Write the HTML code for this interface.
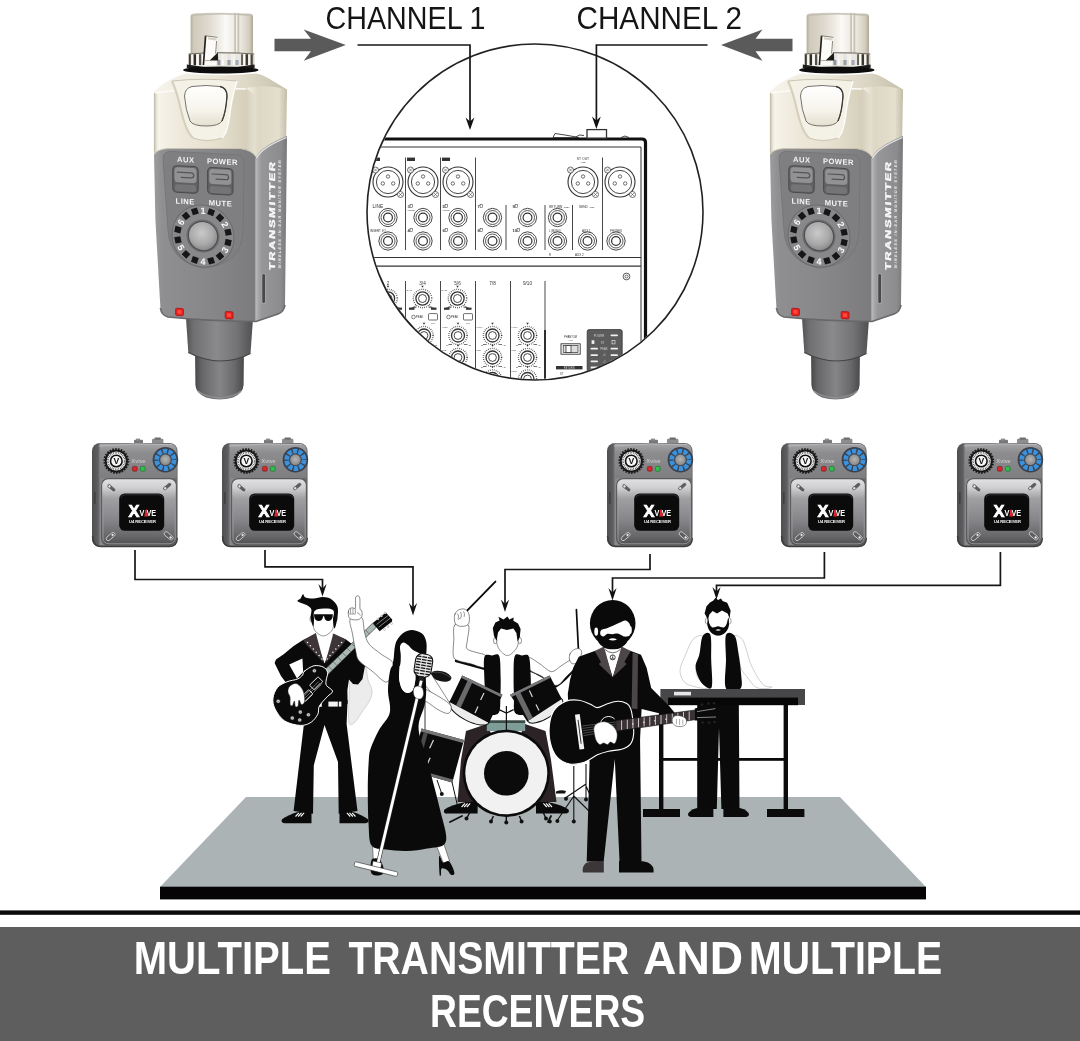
<!DOCTYPE html>
<html lang="en">
<head>
<meta charset="utf-8">
<title>Multiple Transmitter and Multiple Receivers</title>
<style>
html,body{margin:0;padding:0;background:#ffffff;}
body{width:1080px;height:1041px;overflow:hidden;font-family:"Liberation Sans",sans-serif;}
svg{display:block;will-change:transform;}
</style>
</head>
<body>
<svg width="1080" height="1041" viewBox="0 0 1080 1041">
<rect width="1080" height="1041" fill="#ffffff"/>
<rect x="0" y="927" width="1080" height="114" fill="#5e5e5e"/>
<rect x="0" y="910.4" width="1080" height="4.4" fill="#0a0a0a"/>
<g font-family="'Liberation Sans', sans-serif" font-weight="700" font-size="46.5" fill="#ffffff">
<text x="133.7" y="973.6" textLength="197.3" lengthAdjust="spacingAndGlyphs">MULTIPLE</text>
<text x="348.4" y="973.6" textLength="280.8" lengthAdjust="spacingAndGlyphs">TRANSMITTER</text>
<text x="643" y="973.6" textLength="100.2" lengthAdjust="spacingAndGlyphs">AND</text>
<text x="749" y="973.6" textLength="193.1" lengthAdjust="spacingAndGlyphs">MULTIPLE</text>
<text x="430" y="1026.6" textLength="215.1" lengthAdjust="spacingAndGlyphs">RECEIVERS</text>
</g>
<polygon points="246,797 840,797 926,887 160,887" fill="#abb3b5"/>
<rect x="160" y="886.7" width="766" height="12.7" fill="#060404"/>
<g font-family="'Liberation Sans', sans-serif" font-size="32" fill="#151515">
<text x="325.5" y="28.8" textLength="160" lengthAdjust="spacingAndGlyphs">CHANNEL 1</text>
<text x="576.5" y="28.8" textLength="165.4" lengthAdjust="spacingAndGlyphs">CHANNEL 2</text>
</g>
<polygon points="274.5,38.7 311,38.7 303.7,29.5 345.8,45 303.7,60.7 311,51.3 274.5,51.3" fill="#5a5a5a"/>
<polygon points="792.5,38.7 755.5,38.7 762.5,29.5 721,45 762.5,60.7 755.5,51.3 792.5,51.3" fill="#5a5a5a"/>
<defs><clipPath id="mixclip"><circle cx="535" cy="212" r="167.2"/></clipPath></defs>
<g clip-path="url(#mixclip)" font-family="'Liberation Sans', sans-serif">
<path d="M360,139 H642 Q645.5,139 645.5,142.5 V400" fill="none" stroke="#111" stroke-width="3.2"/>
<path d="M360,147 H641 V400" fill="none" stroke="#333" stroke-width="1"/>
<path d="M360,257.5 H641 M360,266.2 H641" fill="none" stroke="#333" stroke-width="1.2"/>
<rect x="587" y="129.6" width="19.5" height="8.5" fill="#fff" stroke="#333" stroke-width="1.3"/>
<path d="M553,137.5 l2,-4 l10,1.5 l14,2.5 z" fill="#fff" stroke="#333" stroke-width="0.9"/>
<path d="M575,137.5 q4,-4 9,-2 M621,137.5 q4,-3 8,0" fill="none" stroke="#333" stroke-width="0.9"/>
<path d="M405.5,157.5 V250 M440.5,157.5 V250 M475.5,157.5 V250 M602.5,157.5 V250 M506,205 V250 M545,205 V250 M572.5,205 V250 M405.5,281 V400 M440.5,281 V400 M475.5,281 V400 M510.5,281 V400 M545,281 V400 " fill="none" stroke="#333" stroke-width="0.9"/>
<path d="M545,330 V400" fill="none" stroke="#222" stroke-width="1.8"/>
<circle cx="353" cy="182" r="15" fill="#fff" stroke="#333" stroke-width="1.1"/><circle cx="353" cy="182" r="11.6" fill="none" stroke="#333" stroke-width="0.9"/><circle cx="347.8" cy="183.5" r="1.7" fill="none" stroke="#333" stroke-width="0.7"/><circle cx="358.2" cy="183.5" r="1.7" fill="none" stroke="#333" stroke-width="0.7"/><circle cx="353" cy="176.5" r="1.7" fill="none" stroke="#333" stroke-width="0.7"/><circle cx="340.5" cy="170" r="3" fill="#fff" stroke="#333" stroke-width="0.7"/><path d="M338.9,168.4 l3.2,3.2 M342.1,168.4 l-3.2,3.2" stroke="#333" stroke-width="0.5"/><circle cx="365.5" cy="194.5" r="3" fill="#fff" stroke="#333" stroke-width="0.7"/><path d="M363.9,192.9 l3.2,3.2 M367.1,192.9 l-3.2,3.2" stroke="#333" stroke-width="0.5"/>
<circle cx="388" cy="182" r="15" fill="#fff" stroke="#333" stroke-width="1.1"/><circle cx="388" cy="182" r="11.6" fill="none" stroke="#333" stroke-width="0.9"/><circle cx="382.8" cy="183.5" r="1.7" fill="none" stroke="#333" stroke-width="0.7"/><circle cx="393.2" cy="183.5" r="1.7" fill="none" stroke="#333" stroke-width="0.7"/><circle cx="388" cy="176.5" r="1.7" fill="none" stroke="#333" stroke-width="0.7"/><circle cx="375.5" cy="170" r="3" fill="#fff" stroke="#333" stroke-width="0.7"/><path d="M373.9,168.4 l3.2,3.2 M377.1,168.4 l-3.2,3.2" stroke="#333" stroke-width="0.5"/><circle cx="400.5" cy="194.5" r="3" fill="#fff" stroke="#333" stroke-width="0.7"/><path d="M398.9,192.9 l3.2,3.2 M402.1,192.9 l-3.2,3.2" stroke="#333" stroke-width="0.5"/>
<circle cx="423" cy="182" r="15" fill="#fff" stroke="#333" stroke-width="1.1"/><circle cx="423" cy="182" r="11.6" fill="none" stroke="#333" stroke-width="0.9"/><circle cx="417.8" cy="183.5" r="1.7" fill="none" stroke="#333" stroke-width="0.7"/><circle cx="428.2" cy="183.5" r="1.7" fill="none" stroke="#333" stroke-width="0.7"/><circle cx="423" cy="176.5" r="1.7" fill="none" stroke="#333" stroke-width="0.7"/><circle cx="410.5" cy="170" r="3" fill="#fff" stroke="#333" stroke-width="0.7"/><path d="M408.9,168.4 l3.2,3.2 M412.1,168.4 l-3.2,3.2" stroke="#333" stroke-width="0.5"/><circle cx="435.5" cy="194.5" r="3" fill="#fff" stroke="#333" stroke-width="0.7"/><path d="M433.9,192.9 l3.2,3.2 M437.1,192.9 l-3.2,3.2" stroke="#333" stroke-width="0.5"/>
<circle cx="458" cy="182" r="15" fill="#fff" stroke="#333" stroke-width="1.1"/><circle cx="458" cy="182" r="11.6" fill="none" stroke="#333" stroke-width="0.9"/><circle cx="452.8" cy="183.5" r="1.7" fill="none" stroke="#333" stroke-width="0.7"/><circle cx="463.2" cy="183.5" r="1.7" fill="none" stroke="#333" stroke-width="0.7"/><circle cx="458" cy="176.5" r="1.7" fill="none" stroke="#333" stroke-width="0.7"/><circle cx="445.5" cy="170" r="3" fill="#fff" stroke="#333" stroke-width="0.7"/><path d="M443.9,168.4 l3.2,3.2 M447.1,168.4 l-3.2,3.2" stroke="#333" stroke-width="0.5"/><circle cx="470.5" cy="194.5" r="3" fill="#fff" stroke="#333" stroke-width="0.7"/><path d="M468.9,192.9 l3.2,3.2 M472.1,192.9 l-3.2,3.2" stroke="#333" stroke-width="0.5"/>
<circle cx="583" cy="182" r="15" fill="#fff" stroke="#333" stroke-width="1.1"/><circle cx="583" cy="182" r="11.6" fill="none" stroke="#333" stroke-width="0.9"/><circle cx="577.8" cy="183.5" r="1.7" fill="none" stroke="#333" stroke-width="0.7"/><circle cx="588.2" cy="183.5" r="1.7" fill="none" stroke="#333" stroke-width="0.7"/><circle cx="583" cy="176.5" r="1.7" fill="none" stroke="#333" stroke-width="0.7"/><circle cx="570.5" cy="170" r="3" fill="#fff" stroke="#333" stroke-width="0.7"/><path d="M568.9,168.4 l3.2,3.2 M572.1,168.4 l-3.2,3.2" stroke="#333" stroke-width="0.5"/><circle cx="595.5" cy="194.5" r="3" fill="#fff" stroke="#333" stroke-width="0.7"/><path d="M593.9,192.9 l3.2,3.2 M597.1,192.9 l-3.2,3.2" stroke="#333" stroke-width="0.5"/>
<circle cx="620" cy="182" r="15" fill="#fff" stroke="#333" stroke-width="1.1"/><circle cx="620" cy="182" r="11.6" fill="none" stroke="#333" stroke-width="0.9"/><circle cx="614.8" cy="183.5" r="1.7" fill="none" stroke="#333" stroke-width="0.7"/><circle cx="625.2" cy="183.5" r="1.7" fill="none" stroke="#333" stroke-width="0.7"/><circle cx="620" cy="176.5" r="1.7" fill="none" stroke="#333" stroke-width="0.7"/><circle cx="607.5" cy="170" r="3" fill="#fff" stroke="#333" stroke-width="0.7"/><path d="M605.9,168.4 l3.2,3.2 M609.1,168.4 l-3.2,3.2" stroke="#333" stroke-width="0.5"/><circle cx="632.5" cy="194.5" r="3" fill="#fff" stroke="#333" stroke-width="0.7"/><path d="M630.9,192.9 l3.2,3.2 M634.1,192.9 l-3.2,3.2" stroke="#333" stroke-width="0.5"/>
<polygon points="397.2,217.5 396.0,222.1 392.6,225.5 388.0,226.7 383.4,225.5 380.0,222.1 378.8,217.5 380.0,212.9 383.4,209.5 388.0,208.3 392.6,209.5 396.0,212.9" fill="#fff" stroke="#333" stroke-width="0.9"/><circle cx="388" cy="217.5" r="7" fill="none" stroke="#333" stroke-width="0.8"/><circle cx="388" cy="217.5" r="4.4" fill="none" stroke="#333" stroke-width="1.2"/>
<polygon points="397.2,241.0 396.0,245.6 392.6,249.0 388.0,250.2 383.4,249.0 380.0,245.6 378.8,241.0 380.0,236.4 383.4,233.0 388.0,231.8 392.6,233.0 396.0,236.4" fill="#fff" stroke="#333" stroke-width="0.9"/><circle cx="388" cy="241" r="7" fill="none" stroke="#333" stroke-width="0.8"/><circle cx="388" cy="241" r="4.4" fill="none" stroke="#333" stroke-width="1.2"/>
<polygon points="432.2,217.5 431.0,222.1 427.6,225.5 423.0,226.7 418.4,225.5 415.0,222.1 413.8,217.5 415.0,212.9 418.4,209.5 423.0,208.3 427.6,209.5 431.0,212.9" fill="#fff" stroke="#333" stroke-width="0.9"/><circle cx="423" cy="217.5" r="7" fill="none" stroke="#333" stroke-width="0.8"/><circle cx="423" cy="217.5" r="4.4" fill="none" stroke="#333" stroke-width="1.2"/>
<polygon points="432.2,241.0 431.0,245.6 427.6,249.0 423.0,250.2 418.4,249.0 415.0,245.6 413.8,241.0 415.0,236.4 418.4,233.0 423.0,231.8 427.6,233.0 431.0,236.4" fill="#fff" stroke="#333" stroke-width="0.9"/><circle cx="423" cy="241" r="7" fill="none" stroke="#333" stroke-width="0.8"/><circle cx="423" cy="241" r="4.4" fill="none" stroke="#333" stroke-width="1.2"/>
<polygon points="467.2,217.5 466.0,222.1 462.6,225.5 458.0,226.7 453.4,225.5 450.0,222.1 448.8,217.5 450.0,212.9 453.4,209.5 458.0,208.3 462.6,209.5 466.0,212.9" fill="#fff" stroke="#333" stroke-width="0.9"/><circle cx="458" cy="217.5" r="7" fill="none" stroke="#333" stroke-width="0.8"/><circle cx="458" cy="217.5" r="4.4" fill="none" stroke="#333" stroke-width="1.2"/>
<polygon points="467.2,241.0 466.0,245.6 462.6,249.0 458.0,250.2 453.4,249.0 450.0,245.6 448.8,241.0 450.0,236.4 453.4,233.0 458.0,231.8 462.6,233.0 466.0,236.4" fill="#fff" stroke="#333" stroke-width="0.9"/><circle cx="458" cy="241" r="7" fill="none" stroke="#333" stroke-width="0.8"/><circle cx="458" cy="241" r="4.4" fill="none" stroke="#333" stroke-width="1.2"/>
<polygon points="501.7,217.5 500.5,222.1 497.1,225.5 492.5,226.7 487.9,225.5 484.5,222.1 483.3,217.5 484.5,212.9 487.9,209.5 492.5,208.3 497.1,209.5 500.5,212.9" fill="#fff" stroke="#333" stroke-width="0.9"/><circle cx="492.5" cy="217.5" r="7" fill="none" stroke="#333" stroke-width="0.8"/><circle cx="492.5" cy="217.5" r="4.4" fill="none" stroke="#333" stroke-width="1.2"/>
<polygon points="501.7,241.0 500.5,245.6 497.1,249.0 492.5,250.2 487.9,249.0 484.5,245.6 483.3,241.0 484.5,236.4 487.9,233.0 492.5,231.8 497.1,233.0 500.5,236.4" fill="#fff" stroke="#333" stroke-width="0.9"/><circle cx="492.5" cy="241" r="7" fill="none" stroke="#333" stroke-width="0.8"/><circle cx="492.5" cy="241" r="4.4" fill="none" stroke="#333" stroke-width="1.2"/>
<polygon points="536.7,217.5 535.5,222.1 532.1,225.5 527.5,226.7 522.9,225.5 519.5,222.1 518.3,217.5 519.5,212.9 522.9,209.5 527.5,208.3 532.1,209.5 535.5,212.9" fill="#fff" stroke="#333" stroke-width="0.9"/><circle cx="527.5" cy="217.5" r="7" fill="none" stroke="#333" stroke-width="0.8"/><circle cx="527.5" cy="217.5" r="4.4" fill="none" stroke="#333" stroke-width="1.2"/>
<polygon points="536.7,241.0 535.5,245.6 532.1,249.0 527.5,250.2 522.9,249.0 519.5,245.6 518.3,241.0 519.5,236.4 522.9,233.0 527.5,231.8 532.1,233.0 535.5,236.4" fill="#fff" stroke="#333" stroke-width="0.9"/><circle cx="527.5" cy="241" r="7" fill="none" stroke="#333" stroke-width="0.8"/><circle cx="527.5" cy="241" r="4.4" fill="none" stroke="#333" stroke-width="1.2"/>
<polygon points="566.7,217.5 565.5,222.1 562.1,225.5 557.5,226.7 552.9,225.5 549.5,222.1 548.3,217.5 549.5,212.9 552.9,209.5 557.5,208.3 562.1,209.5 565.5,212.9" fill="#fff" stroke="#333" stroke-width="0.9"/><circle cx="557.5" cy="217.5" r="7" fill="none" stroke="#333" stroke-width="0.8"/><circle cx="557.5" cy="217.5" r="4.4" fill="none" stroke="#333" stroke-width="1.2"/>
<polygon points="566.7,241.0 565.5,245.6 562.1,249.0 557.5,250.2 552.9,249.0 549.5,245.6 548.3,241.0 549.5,236.4 552.9,233.0 557.5,231.8 562.1,233.0 565.5,236.4" fill="#fff" stroke="#333" stroke-width="0.9"/><circle cx="557.5" cy="241" r="7" fill="none" stroke="#333" stroke-width="0.8"/><circle cx="557.5" cy="241" r="4.4" fill="none" stroke="#333" stroke-width="1.2"/>
<polygon points="596.7,241.0 595.5,245.6 592.1,249.0 587.5,250.2 582.9,249.0 579.5,245.6 578.3,241.0 579.5,236.4 582.9,233.0 587.5,231.8 592.1,233.0 595.5,236.4" fill="#fff" stroke="#333" stroke-width="0.9"/><circle cx="587.5" cy="241" r="7" fill="none" stroke="#333" stroke-width="0.8"/><circle cx="587.5" cy="241" r="4.4" fill="none" stroke="#333" stroke-width="1.2"/>
<polygon points="625.2,241.0 624.0,245.6 620.6,249.0 616.0,250.2 611.4,249.0 608.0,245.6 606.8,241.0 608.0,236.4 611.4,233.0 616.0,231.8 620.6,233.0 624.0,236.4" fill="#fff" stroke="#333" stroke-width="0.9"/><circle cx="616" cy="241" r="7" fill="none" stroke="#333" stroke-width="0.8"/><circle cx="616" cy="241" r="4.4" fill="none" stroke="#333" stroke-width="1.2"/>
<rect x="372" y="157.6" width="8" height="3.4" fill="#333"/>
<rect x="407" y="157.6" width="8" height="3.4" fill="#333"/>
<rect x="442" y="157.6" width="8" height="3.4" fill="#333"/>
<text x="372.5" y="207.5" font-size="4.8" text-anchor="start" font-weight="400" fill="#333">LINE</text>
<text x="370" y="232" font-size="3" text-anchor="start" font-weight="400" fill="#333">INSERT I/O</text>
<text x="407.5" y="207.8" font-size="4.2" text-anchor="start" font-weight="700" fill="#333">3</text>
<text x="407.5" y="231.8" font-size="4.2" text-anchor="start" font-weight="700" fill="#333">4</text>
<rect x="410.1" y="204.6" width="2.6" height="3" fill="none" stroke="#333" stroke-width="0.5"/>
<rect x="410.1" y="228.6" width="2.6" height="3" fill="none" stroke="#333" stroke-width="0.5"/>
<text x="442.5" y="207.8" font-size="4.2" text-anchor="start" font-weight="700" fill="#333">5</text>
<text x="442.5" y="231.8" font-size="4.2" text-anchor="start" font-weight="700" fill="#333">6</text>
<rect x="445.1" y="204.6" width="2.6" height="3" fill="none" stroke="#333" stroke-width="0.5"/>
<rect x="445.1" y="228.6" width="2.6" height="3" fill="none" stroke="#333" stroke-width="0.5"/>
<text x="477.5" y="207.8" font-size="4.2" text-anchor="start" font-weight="700" fill="#333">7</text>
<text x="477.5" y="231.8" font-size="4.2" text-anchor="start" font-weight="700" fill="#333">8</text>
<rect x="480.1" y="204.6" width="2.6" height="3" fill="none" stroke="#333" stroke-width="0.5"/>
<rect x="480.1" y="228.6" width="2.6" height="3" fill="none" stroke="#333" stroke-width="0.5"/>
<text x="512.5" y="207.8" font-size="4.2" text-anchor="start" font-weight="700" fill="#333">9</text>
<text x="512.5" y="231.8" font-size="4.2" text-anchor="start" font-weight="700" fill="#333">10</text>
<rect x="515.1" y="204.6" width="2.6" height="3" fill="none" stroke="#333" stroke-width="0.5"/>
<rect x="517.1" y="228.6" width="2.6" height="3" fill="none" stroke="#333" stroke-width="0.5"/>
<text x="407.5" y="211" font-size="2" text-anchor="start" font-weight="400" fill="#333">(MONO)</text>
<text x="442.5" y="211" font-size="2" text-anchor="start" font-weight="400" fill="#333">(MONO)</text>
<text x="583" y="159.5" font-size="3.4" text-anchor="middle" font-weight="400" fill="#333">ST OUT</text>
<text x="583" y="162.8" font-size="2" text-anchor="middle" font-weight="400" fill="#333">+4dBu</text>
<text x="549" y="207.5" font-size="3.2" text-anchor="start" font-weight="400" fill="#333">RETURN</text>
<text x="563" y="207.5" font-size="2" text-anchor="start" font-weight="400" fill="#333">-10dBV</text>
<text x="579" y="207.5" font-size="3.2" text-anchor="start" font-weight="400" fill="#333">SEND</text>
<text x="588.5" y="207.5" font-size="2" text-anchor="start" font-weight="400" fill="#333">+4dBu</text>
<text x="549" y="231.5" font-size="2.6" text-anchor="start" font-weight="400" fill="#333">L (MONO)</text>
<text x="549" y="255.5" font-size="2.6" text-anchor="start" font-weight="400" fill="#333">R</text>
<text x="582" y="231.5" font-size="3" text-anchor="start" font-weight="400" fill="#333">AUX 1</text>
<text x="575" y="255.5" font-size="3" text-anchor="start" font-weight="400" fill="#333">AUX 2</text>
<text x="616" y="231.5" font-size="2.8" text-anchor="middle" font-weight="400" fill="#333">PHONES</text>
<text x="388" y="285" font-size="4.6" text-anchor="middle" font-weight="400" fill="#333">2</text>
<text x="422.5" y="285" font-size="4.6" text-anchor="middle" font-weight="400" fill="#333">3/4</text>
<text x="457.5" y="285" font-size="4.6" text-anchor="middle" font-weight="400" fill="#333">5/6</text>
<text x="492.5" y="285" font-size="4.6" text-anchor="middle" font-weight="400" fill="#333">7/8</text>
<text x="527.5" y="285" font-size="4.6" text-anchor="middle" font-weight="400" fill="#333">9/10</text>
<circle cx="388" cy="298.5" r="9.2" fill="none" stroke="#333" stroke-width="1.4" stroke-dasharray="0.7 1.3"/><circle cx="388" cy="298.5" r="6.6" fill="#fff" stroke="#333" stroke-width="1.3"/><circle cx="388" cy="298.5" r="3.9999999999999996" fill="none" stroke="#333" stroke-width="0.9"/><path d="M388,287.7 l-1.3,-2 h2.6 z" fill="#333"/><path d="M378.4,307.6 h3.5 M397.6,307.6 h-3.5" stroke="#333" stroke-width="0.7"/>
<text x="372" y="290.5" font-size="2.4" text-anchor="start" font-weight="400" fill="#333">GAIN</text>
<path d="M382,305.5 l-6,3 M394,305.5 l6,3" stroke="#333" stroke-width="0.6"/>
<rect x="374.5" y="307.6" width="5.5" height="2.2" fill="#333"/><rect x="396.5" y="307.6" width="5.5" height="2.2" fill="#333"/>
<circle cx="379" cy="317" r="1.8" fill="none" stroke="#333" stroke-width="0.6"/>
<text x="381.5" y="318.2" font-size="2.8" text-anchor="start" font-weight="400" fill="#333">PEAK</text>
<rect x="394" y="313.6" width="9" height="6.4" rx="0.8" fill="#fff" stroke="#333" stroke-width="0.7"/>
<text x="398.5" y="323.6" font-size="1.9" text-anchor="middle" font-weight="400" fill="#333">PAD</text>
<circle cx="422.5" cy="298.5" r="9.2" fill="none" stroke="#333" stroke-width="1.4" stroke-dasharray="0.7 1.3"/><circle cx="422.5" cy="298.5" r="6.6" fill="#fff" stroke="#333" stroke-width="1.3"/><circle cx="422.5" cy="298.5" r="3.9999999999999996" fill="none" stroke="#333" stroke-width="0.9"/><path d="M422.5,287.7 l-1.3,-2 h2.6 z" fill="#333"/><path d="M412.9,307.6 h3.5 M432.1,307.6 h-3.5" stroke="#333" stroke-width="0.7"/>
<text x="406.5" y="290.5" font-size="2.4" text-anchor="start" font-weight="400" fill="#333">GAIN</text>
<path d="M416.5,305.5 l-6,3 M428.5,305.5 l6,3" stroke="#333" stroke-width="0.6"/>
<rect x="409.0" y="307.6" width="5.5" height="2.2" fill="#333"/><rect x="431.0" y="307.6" width="5.5" height="2.2" fill="#333"/>
<circle cx="413.5" cy="317" r="1.8" fill="none" stroke="#333" stroke-width="0.6"/>
<text x="416.0" y="318.2" font-size="2.8" text-anchor="start" font-weight="400" fill="#333">PEAK</text>
<rect x="428.5" y="313.6" width="9" height="6.4" rx="0.8" fill="#fff" stroke="#333" stroke-width="0.7"/>
<text x="433.0" y="323.6" font-size="1.9" text-anchor="middle" font-weight="400" fill="#333">PAD</text>
<circle cx="457.5" cy="298.5" r="9.2" fill="none" stroke="#333" stroke-width="1.4" stroke-dasharray="0.7 1.3"/><circle cx="457.5" cy="298.5" r="6.6" fill="#fff" stroke="#333" stroke-width="1.3"/><circle cx="457.5" cy="298.5" r="3.9999999999999996" fill="none" stroke="#333" stroke-width="0.9"/><path d="M457.5,287.7 l-1.3,-2 h2.6 z" fill="#333"/><path d="M447.9,307.6 h3.5 M467.1,307.6 h-3.5" stroke="#333" stroke-width="0.7"/>
<text x="441.5" y="290.5" font-size="2.4" text-anchor="start" font-weight="400" fill="#333">GAIN</text>
<path d="M451.5,305.5 l-6,3 M463.5,305.5 l6,3" stroke="#333" stroke-width="0.6"/>
<rect x="444.0" y="307.6" width="5.5" height="2.2" fill="#333"/><rect x="466.0" y="307.6" width="5.5" height="2.2" fill="#333"/>
<circle cx="448.5" cy="317" r="1.8" fill="none" stroke="#333" stroke-width="0.6"/>
<text x="451.0" y="318.2" font-size="2.8" text-anchor="start" font-weight="400" fill="#333">PEAK</text>
<rect x="463.5" y="313.6" width="9" height="6.4" rx="0.8" fill="#fff" stroke="#333" stroke-width="0.7"/>
<text x="468.0" y="323.6" font-size="1.9" text-anchor="middle" font-weight="400" fill="#333">PAD</text>
<circle cx="389" cy="335.5" r="9.1" fill="none" stroke="#333" stroke-width="1.4" stroke-dasharray="0.7 1.3"/><circle cx="389" cy="335.5" r="6.5" fill="#fff" stroke="#333" stroke-width="1.3"/><circle cx="389" cy="335.5" r="3.9" fill="none" stroke="#333" stroke-width="0.9"/><path d="M389,324.8 l-1.3,-2 h2.6 z" fill="#333"/><path d="M379.5,344.5 h3.5 M398.5,344.5 h-3.5" stroke="#333" stroke-width="0.7"/>
<text x="373" y="327.5" font-size="2.4" text-anchor="start" font-weight="400" fill="#333">HIGH</text>
<text x="378" y="346.3" font-size="2" text-anchor="middle" font-weight="400" fill="#333">-15</text>
<text x="400.5" y="346.3" font-size="2" text-anchor="middle" font-weight="400" fill="#333">+15</text>
<circle cx="424" cy="335.5" r="9.1" fill="none" stroke="#333" stroke-width="1.4" stroke-dasharray="0.7 1.3"/><circle cx="424" cy="335.5" r="6.5" fill="#fff" stroke="#333" stroke-width="1.3"/><circle cx="424" cy="335.5" r="3.9" fill="none" stroke="#333" stroke-width="0.9"/><path d="M424,324.8 l-1.3,-2 h2.6 z" fill="#333"/><path d="M414.5,344.5 h3.5 M433.5,344.5 h-3.5" stroke="#333" stroke-width="0.7"/>
<text x="408" y="327.5" font-size="2.4" text-anchor="start" font-weight="400" fill="#333">HIGH</text>
<text x="413" y="346.3" font-size="2" text-anchor="middle" font-weight="400" fill="#333">-15</text>
<text x="435.5" y="346.3" font-size="2" text-anchor="middle" font-weight="400" fill="#333">+15</text>
<circle cx="458" cy="335.5" r="9.1" fill="none" stroke="#333" stroke-width="1.4" stroke-dasharray="0.7 1.3"/><circle cx="458" cy="335.5" r="6.5" fill="#fff" stroke="#333" stroke-width="1.3"/><circle cx="458" cy="335.5" r="3.9" fill="none" stroke="#333" stroke-width="0.9"/><path d="M458,324.8 l-1.3,-2 h2.6 z" fill="#333"/><path d="M448.5,344.5 h3.5 M467.5,344.5 h-3.5" stroke="#333" stroke-width="0.7"/>
<text x="442" y="327.5" font-size="2.4" text-anchor="start" font-weight="400" fill="#333">HIGH</text>
<text x="447" y="346.3" font-size="2" text-anchor="middle" font-weight="400" fill="#333">-15</text>
<text x="469.5" y="346.3" font-size="2" text-anchor="middle" font-weight="400" fill="#333">+15</text>
<circle cx="492.5" cy="335.5" r="9.1" fill="none" stroke="#333" stroke-width="1.4" stroke-dasharray="0.7 1.3"/><circle cx="492.5" cy="335.5" r="6.5" fill="#fff" stroke="#333" stroke-width="1.3"/><circle cx="492.5" cy="335.5" r="3.9" fill="none" stroke="#333" stroke-width="0.9"/><path d="M492.5,324.8 l-1.3,-2 h2.6 z" fill="#333"/><path d="M483.0,344.5 h3.5 M502.0,344.5 h-3.5" stroke="#333" stroke-width="0.7"/>
<text x="476.5" y="327.5" font-size="2.4" text-anchor="start" font-weight="400" fill="#333">HIGH</text>
<text x="481.5" y="346.3" font-size="2" text-anchor="middle" font-weight="400" fill="#333">-15</text>
<text x="504.0" y="346.3" font-size="2" text-anchor="middle" font-weight="400" fill="#333">+15</text>
<circle cx="527.5" cy="335.5" r="9.1" fill="none" stroke="#333" stroke-width="1.4" stroke-dasharray="0.7 1.3"/><circle cx="527.5" cy="335.5" r="6.5" fill="#fff" stroke="#333" stroke-width="1.3"/><circle cx="527.5" cy="335.5" r="3.9" fill="none" stroke="#333" stroke-width="0.9"/><path d="M527.5,324.8 l-1.3,-2 h2.6 z" fill="#333"/><path d="M518.0,344.5 h3.5 M537.0,344.5 h-3.5" stroke="#333" stroke-width="0.7"/>
<text x="511.5" y="327.5" font-size="2.4" text-anchor="start" font-weight="400" fill="#333">HIGH</text>
<text x="516.5" y="346.3" font-size="2" text-anchor="middle" font-weight="400" fill="#333">-15</text>
<text x="539.0" y="346.3" font-size="2" text-anchor="middle" font-weight="400" fill="#333">+15</text>
<circle cx="424" cy="357.5" r="9.1" fill="none" stroke="#333" stroke-width="1.4" stroke-dasharray="0.7 1.3"/><circle cx="424" cy="357.5" r="6.5" fill="#fff" stroke="#333" stroke-width="1.3"/><circle cx="424" cy="357.5" r="3.9" fill="none" stroke="#333" stroke-width="0.9"/><path d="M424,346.8 l-1.3,-2 h2.6 z" fill="#333"/><path d="M414.5,366.5 h3.5 M433.5,366.5 h-3.5" stroke="#333" stroke-width="0.7"/>
<text x="408" y="350.5" font-size="2.4" text-anchor="start" font-weight="400" fill="#333">MID</text>
<text x="413" y="368.3" font-size="2" text-anchor="middle" font-weight="400" fill="#333">-15</text>
<text x="435.5" y="368.3" font-size="2" text-anchor="middle" font-weight="400" fill="#333">+15</text>
<circle cx="458" cy="357.5" r="9.1" fill="none" stroke="#333" stroke-width="1.4" stroke-dasharray="0.7 1.3"/><circle cx="458" cy="357.5" r="6.5" fill="#fff" stroke="#333" stroke-width="1.3"/><circle cx="458" cy="357.5" r="3.9" fill="none" stroke="#333" stroke-width="0.9"/><path d="M458,346.8 l-1.3,-2 h2.6 z" fill="#333"/><path d="M448.5,366.5 h3.5 M467.5,366.5 h-3.5" stroke="#333" stroke-width="0.7"/>
<text x="442" y="350.5" font-size="2.4" text-anchor="start" font-weight="400" fill="#333">MID</text>
<text x="447" y="368.3" font-size="2" text-anchor="middle" font-weight="400" fill="#333">-15</text>
<text x="469.5" y="368.3" font-size="2" text-anchor="middle" font-weight="400" fill="#333">+15</text>
<circle cx="492.5" cy="357.5" r="9.1" fill="none" stroke="#333" stroke-width="1.4" stroke-dasharray="0.7 1.3"/><circle cx="492.5" cy="357.5" r="6.5" fill="#fff" stroke="#333" stroke-width="1.3"/><circle cx="492.5" cy="357.5" r="3.9" fill="none" stroke="#333" stroke-width="0.9"/><path d="M492.5,346.8 l-1.3,-2 h2.6 z" fill="#333"/><path d="M483.0,366.5 h3.5 M502.0,366.5 h-3.5" stroke="#333" stroke-width="0.7"/>
<text x="476.5" y="350.5" font-size="2.4" text-anchor="start" font-weight="400" fill="#333">MID</text>
<text x="481.5" y="368.3" font-size="2" text-anchor="middle" font-weight="400" fill="#333">-15</text>
<text x="504.0" y="368.3" font-size="2" text-anchor="middle" font-weight="400" fill="#333">+15</text>
<circle cx="527.5" cy="357.5" r="9.1" fill="none" stroke="#333" stroke-width="1.4" stroke-dasharray="0.7 1.3"/><circle cx="527.5" cy="357.5" r="6.5" fill="#fff" stroke="#333" stroke-width="1.3"/><circle cx="527.5" cy="357.5" r="3.9" fill="none" stroke="#333" stroke-width="0.9"/><path d="M527.5,346.8 l-1.3,-2 h2.6 z" fill="#333"/><path d="M518.0,366.5 h3.5 M537.0,366.5 h-3.5" stroke="#333" stroke-width="0.7"/>
<text x="511.5" y="350.5" font-size="2.4" text-anchor="start" font-weight="400" fill="#333">MID</text>
<text x="516.5" y="368.3" font-size="2" text-anchor="middle" font-weight="400" fill="#333">-15</text>
<text x="539.0" y="368.3" font-size="2" text-anchor="middle" font-weight="400" fill="#333">+15</text>
<circle cx="458" cy="379" r="9.1" fill="none" stroke="#333" stroke-width="1.4" stroke-dasharray="0.7 1.3"/><circle cx="458" cy="379" r="6.5" fill="#fff" stroke="#333" stroke-width="1.3"/><circle cx="458" cy="379" r="3.9" fill="none" stroke="#333" stroke-width="0.9"/><path d="M458,368.3 l-1.3,-2 h2.6 z" fill="#333"/><path d="M448.5,388.0 h3.5 M467.5,388.0 h-3.5" stroke="#333" stroke-width="0.7"/>
<text x="442" y="371.5" font-size="2.4" text-anchor="start" font-weight="400" fill="#333">LOW</text>
<circle cx="492.5" cy="379" r="9.1" fill="none" stroke="#333" stroke-width="1.4" stroke-dasharray="0.7 1.3"/><circle cx="492.5" cy="379" r="6.5" fill="#fff" stroke="#333" stroke-width="1.3"/><circle cx="492.5" cy="379" r="3.9" fill="none" stroke="#333" stroke-width="0.9"/><path d="M492.5,368.3 l-1.3,-2 h2.6 z" fill="#333"/><path d="M483.0,388.0 h3.5 M502.0,388.0 h-3.5" stroke="#333" stroke-width="0.7"/>
<text x="476.5" y="371.5" font-size="2.4" text-anchor="start" font-weight="400" fill="#333">LOW</text>
<circle cx="527.5" cy="379" r="9.1" fill="none" stroke="#333" stroke-width="1.4" stroke-dasharray="0.7 1.3"/><circle cx="527.5" cy="379" r="6.5" fill="#fff" stroke="#333" stroke-width="1.3"/><circle cx="527.5" cy="379" r="3.9" fill="none" stroke="#333" stroke-width="0.9"/><path d="M527.5,368.3 l-1.3,-2 h2.6 z" fill="#333"/><path d="M518.0,388.0 h3.5 M537.0,388.0 h-3.5" stroke="#333" stroke-width="0.7"/>
<text x="511.5" y="371.5" font-size="2.4" text-anchor="start" font-weight="400" fill="#333">LOW</text>
<text x="570.5" y="338" font-size="2.6" text-anchor="middle" font-weight="400" fill="#333">PHANTOM</text>
<text x="570.5" y="341.2" font-size="2.2" text-anchor="middle" font-weight="400" fill="#333">+48V</text>
<rect x="561" y="343.8" width="19.2" height="10.4" fill="#fff" stroke="#333" stroke-width="0.9"/>
<rect x="563.2" y="345.4" width="14.8" height="7.2" fill="#ddd" stroke="#333" stroke-width="0.7"/>
<rect x="566" y="345.4" width="5" height="7.2" fill="#fff" stroke="#333" stroke-width="0.8"/>
<rect x="556" y="366" width="26.5" height="3.4" fill="#333"/>
<text x="569.2" y="368.9" font-size="2.6" text-anchor="middle" font-weight="400" fill="#ddd">RETURN</text>
<text x="560" y="374.5" font-size="2.6" text-anchor="start" font-weight="400" fill="#333">ST</text>
<rect x="587.2" y="329.6" width="35" height="60" rx="2" fill="#5c5c5c" stroke="#333" stroke-width="0.8"/>
<text x="599" y="337.2" font-size="2.8" text-anchor="middle" font-weight="400" fill="#cfcfcf">POWER</text>
<rect x="610.5" y="334.4" width="7.5" height="1.8" rx="0.9" fill="#f0f0f0"/>
<rect x="591.6" y="340.3" width="2.8" height="3.6" fill="#eee"/><rect x="612" y="340.3" width="3" height="3.6" fill="none" stroke="#eee" stroke-width="0.6"/>
<text x="602.5" y="343.6" font-size="2.8" text-anchor="middle" font-weight="400" fill="#cfcfcf">ST</text>
<text x="604" y="350.2" font-size="2.8" text-anchor="middle" font-weight="400" fill="#cfcfcf">PEAK</text>
<text x="604" y="356.4" font-size="2.8" text-anchor="middle" font-weight="400" fill="#b8b8b8">+6</text>
<text x="604" y="362.6" font-size="2.8" text-anchor="middle" font-weight="400" fill="#b8b8b8">+3</text>
<text x="604" y="368.6" font-size="2.8" text-anchor="middle" font-weight="400" fill="#b8b8b8">0</text>
<rect x="590.5" y="347.8" width="7.5" height="1.8" rx="0.9" fill="#f0f0f0"/><rect x="610.5" y="347.8" width="7.5" height="1.8" rx="0.9" fill="#f0f0f0"/>
<rect x="590.5" y="354.2" width="7.5" height="1.8" rx="0.9" fill="#f0f0f0"/><rect x="610.5" y="354.2" width="7.5" height="1.8" rx="0.9" fill="#f0f0f0"/>
<rect x="590.5" y="360.4" width="7.5" height="1.8" rx="0.9" fill="#f0f0f0"/><rect x="610.5" y="360.4" width="7.5" height="1.8" rx="0.9" fill="#f0f0f0"/>
<rect x="590.5" y="366.6" width="7.5" height="1.8" rx="0.9" fill="#f0f0f0"/><rect x="610.5" y="366.6" width="7.5" height="1.8" rx="0.9" fill="#f0f0f0"/>
<circle cx="626.5" cy="276.5" r="3.4" fill="#fff" stroke="#333" stroke-width="0.8"/><circle cx="626.5" cy="276.5" r="1.5" fill="none" stroke="#333" stroke-width="0.7"/>
</g>
<circle cx="535" cy="212" r="168" fill="none" stroke="#222" stroke-width="1.6"/>
<defs>
<linearGradient id="gXlr" x1="0" x2="1" y1="0" y2="0">
 <stop offset="0" stop-color="#b3ad9d"/><stop offset="0.05" stop-color="#d0cabc"/><stop offset="0.25" stop-color="#dcd7cb"/>
 <stop offset="0.45" stop-color="#eeebe4"/><stop offset="0.56" stop-color="#fbfaf7"/><stop offset="0.69" stop-color="#efece5"/>
 <stop offset="0.715" stop-color="#b9b3a4"/><stop offset="0.735" stop-color="#f4f2ec"/><stop offset="0.765" stop-color="#c4beb0"/>
 <stop offset="0.79" stop-color="#ece9e0"/><stop offset="0.94" stop-color="#d3cdbf"/><stop offset="1" stop-color="#aea797"/>
</linearGradient>
<linearGradient id="gCreamF" x1="0" x2="1" y1="0" y2="0">
 <stop offset="0" stop-color="#cbc5b1"/><stop offset="0.04" stop-color="#f6f3ea"/><stop offset="0.3" stop-color="#ece7d8"/>
 <stop offset="0.62" stop-color="#e5e0ce"/><stop offset="0.9" stop-color="#d5cfbb"/><stop offset="1" stop-color="#e6e2d3"/>
</linearGradient>
<linearGradient id="gCreamS" x1="0" x2="1" y1="0" y2="0">
 <stop offset="0" stop-color="#f5f2e9"/><stop offset="0.3" stop-color="#ddd7c4"/><stop offset="0.8" stop-color="#e4dfce"/><stop offset="1" stop-color="#c3bda9"/>
</linearGradient>
<linearGradient id="gCreamTop" x1="0" x2="1" y1="0" y2="0">
 <stop offset="0" stop-color="#f6f4ec"/><stop offset="0.45" stop-color="#ebe7da"/><stop offset="0.75" stop-color="#d9d3c2"/><stop offset="1" stop-color="#c6c0ad"/>
</linearGradient>
<linearGradient id="gGreyF" x1="0" x2="1" y1="0" y2="0">
 <stop offset="0" stop-color="#9d9d9f"/><stop offset="0.08" stop-color="#8f8f91"/><stop offset="0.6" stop-color="#868688"/><stop offset="1" stop-color="#7b7b7d"/>
</linearGradient>
<linearGradient id="gGreyS" x1="0" x2="1" y1="0" y2="0">
 <stop offset="0" stop-color="#b4b4b6"/><stop offset="0.18" stop-color="#97979a"/><stop offset="0.8" stop-color="#8c8c8f"/><stop offset="1" stop-color="#77777a"/>
</linearGradient>
<linearGradient id="gCyl1" x1="0" x2="1" y1="0" y2="0">
 <stop offset="0" stop-color="#525254"/><stop offset="0.12" stop-color="#707072"/><stop offset="0.45" stop-color="#8a8a8c"/><stop offset="0.75" stop-color="#747476"/><stop offset="1" stop-color="#505052"/>
</linearGradient>
<linearGradient id="gCyl2" x1="0" x2="1" y1="0" y2="0">
 <stop offset="0" stop-color="#48484a"/><stop offset="0.14" stop-color="#666668"/><stop offset="0.5" stop-color="#858587"/><stop offset="0.8" stop-color="#6a6a6c"/><stop offset="1" stop-color="#4a4a4c"/>
</linearGradient>
<radialGradient id="gKnob" cx="0.45" cy="0.4" r="0.65">
 <stop offset="0" stop-color="#c9c9c9"/><stop offset="0.6" stop-color="#a9a9a9"/><stop offset="1" stop-color="#808080"/>
</radialGradient>
<linearGradient id="gBtn" x1="0" x2="0" y1="0" y2="1">
 <stop offset="0" stop-color="#ffffff"/><stop offset="0.6" stop-color="#f6f4ec"/><stop offset="1" stop-color="#e4dfcf"/>
</linearGradient>
</defs>
<g transform="translate(0,0)" font-family="'Liberation Sans', sans-serif">
<path d="M195,348 L195.4,385 Q196,393.6 206,397.4 Q219.5,401.4 233,397.4 Q243,393.6 243.6,385 L244,348 Z" fill="url(#gCyl2)"/>
<path d="M185.6,312 L188.3,352.5 Q220,369 250.5,353.5 L253.5,312 Z" fill="url(#gCyl1)"/>
<path d="M188.3,352.5 Q220,369 250.5,353.5" fill="none" stroke="#444446" stroke-width="1.2"/><path d="M198,391 Q203,396.4 219.5,397.8 Q236,396.4 241,391" fill="none" stroke="#8e8e90" stroke-width="1.3"/>
<path d="M190.6,16.4 Q190.6,13.4 196,13.2 Q221,11.6 247,13.2 Q253,13.4 253,16.4 L253,55 L190.6,55 Z" fill="url(#gXlr)"/>
<path d="M191.4,15.4 Q221,12 252.2,15.4" fill="none" stroke="#c4bfb3" stroke-width="1.6"/>
<path d="M188.6,54 Q221,51.6 254.2,54 L254.8,63.4 Q221,69 188,63.4 Z" fill="#e9e6dd"/>
<rect x="188.8" y="54.2" width="2" height="11" fill="#3a372f"/>
<rect x="191.6" y="54.2" width="1.6" height="11" fill="#f8f7f3"/>
<rect x="193.6" y="54.2" width="2.4" height="11" fill="#2f2c26"/>
<rect x="196.8" y="54.2" width="1.8" height="11" fill="#f8f7f3"/>
<rect x="199" y="54.2" width="2.2" height="11" fill="#55514a"/>
<rect x="202" y="54.2" width="1.6" height="11" fill="#fdfdfb"/>
<rect x="217.4" y="54.2" width="3" height="11" fill="#8e96a2"/>
<rect x="222" y="54.2" width="1.6" height="11" fill="#fdfdfb"/>
<rect x="227.4" y="54.2" width="3.2" height="11" fill="#97a0ad"/>
<rect x="233" y="54.2" width="1.6" height="11" fill="#fdfdfb"/>
<rect x="235.4" y="54.2" width="3.2" height="11" fill="#a3abb6"/>
<rect x="241" y="54.2" width="2" height="11" fill="#6a665d"/>
<rect x="243.6" y="54.2" width="1.6" height="11" fill="#fdfdfb"/>
<rect x="245.6" y="54.2" width="2.4" height="11" fill="#3a372f"/>
<rect x="248.6" y="54.2" width="1.6" height="11" fill="#f4f2ec"/>
<rect x="250.6" y="54.2" width="2.2" height="11" fill="#4a463e"/>
<rect x="253" y="54.2" width="1.4" height="11" fill="#d9d5c8"/>
<path d="M217,54 h22 v6 h-22z" fill="#f1efe9" fill-opacity="0.85"/>
<path d="M188.6,54 Q221,51.4 254.2,54" fill="none" stroke="#6a665c" stroke-width="1.1"/>
<path d="M205.4,35.8 L217.4,37.4 L216.2,65.6 L203.2,65 Z" fill="#fcfbf8"/>
<path d="M205.6,35.8 L203.4,65" fill="none" stroke="#25231e" stroke-width="1.7"/>
<path d="M205.4,35.8 L217.4,37.4" fill="none" stroke="#6d695f" stroke-width="0.8"/>
<path d="M208.2,37.2 L216.6,38.4 L216.4,40.6 L208,39.4 Z" fill="#d5d1c6"/>
<path d="M216.6,41 L215.6,53.6" stroke="#8b877c" stroke-width="1"/>
<path d="M209.6,60.4 L217.8,52.4 L218.2,60.6 Z" fill="#1c1a16"/>
<path d="M204,60.6 H216.4" stroke="#8b877c" stroke-width="0.7"/>
<path d="M186.8,64.4 Q221,70.6 254.6,64.4 L254.6,68 Q221,73.6 186.8,68 Z" fill="#1d1c19"/>
<ellipse cx="220.8" cy="70" rx="37.8" ry="3.6" fill="#0c0c0c"/>
<path d="M186,73.5 Q221,77 256,73.5 Q262,74 268,78 L287,89.5 L287,100 L154,100 L154,92.5 Q160,84 176,77 Q181,74.5 186,73.5 Z" fill="url(#gCreamTop)"/>
<path d="M154,92 Q200,86 246,88 L256,92 L256,158 L154,156 Z" fill="url(#gCreamF)"/>
<path d="M246,88 Q268,84 287,89.5 L286,150 L255,160 L255,95 Z" fill="url(#gCreamS)"/>
<path d="M154,93 Q200,87 246,89" fill="none" stroke="#fdfcf8" stroke-width="1.6"/>
<path d="M154.5,93 V152" fill="none" stroke="#c5bfad" stroke-width="1.2"/>
<path d="M172,81 Q204,77.5 237,81 Q233,92 230,112 Q228,132 222,138 Q207,143 193,138 Q186,132 181,110 Q177,92 172,81 Z" fill="#f4f1e7" stroke="#cbc5b2" stroke-width="1"/>
<path d="M172,81 Q177,92 181,110 Q186,132 193,138" fill="none" stroke="#d5cfbc" stroke-width="2"/>
<path d="M237,81 Q233,92 230,112 Q228,132 222,138" fill="none" stroke="#fffefb" stroke-width="1.6"/>
<path d="M192,86.5 Q206,84.5 220,86.5 Q227,88 227,96 Q226,112 222,121 Q219,126 206,126 Q193,126 190,121 Q185.5,110 184.5,96 Q185,88 192,86.5 Z" fill="url(#gBtn)" stroke="#77736a" stroke-width="1"/>
<path d="M220,86.5 Q227,88 227,96 Q226,112 222,121" fill="none" stroke="#3f3c36" stroke-width="1.3"/>
<path d="M154,155 Q156,149.5 168,148.5 L240,148.5 Q252,150 256,157 L256,321.5 Q206,321 168,317 Q161.5,315.6 160.4,308 L155.4,220 Z" fill="url(#gGreyF)"/>
<path d="M256,157 Q262,146 287,136 L285,305 Q284,312 278,314 L256,321.5 Z" fill="url(#gGreyS)"/>
<path d="M256.5,158 Q262,147.5 286.5,137.5" fill="none" stroke="#e9e9e9" stroke-width="1.3"/>
<path d="M256,158 V321" fill="none" stroke="#b8b8ba" stroke-width="1.4"/>
<path d="M154,155 Q156,149.5 168,148.5 L240,148.5 Q252,150 256,157" fill="none" stroke="#c9c4b4" stroke-width="1"/>
<g transform="translate(0,-10.6) skewY(3)">
<path d="M163,160 Q163,153 172,153 L236,153 Q244,153 244,160 L243,232 Q240,262 204,268 Q170,264 168,232 Z" fill="#7f7f82" stroke="#737376" stroke-width="0.8"/>
<rect x="172.8" y="167" width="25.4" height="26.6" rx="4" fill="#616163" stroke="#4b4b4d" stroke-width="1"/>
<rect x="174.0" y="168" width="23" height="16" rx="3.5" fill="#929294" stroke="#5a5a5c" stroke-width="0.7"/>
<path d="M176.8,173.5 H190.8 Q193.8,173.5 193.8,176 Q193.8,178.5 190.8,178.5 H180.8" fill="none" stroke="#555557" stroke-width="1.2"/>
<rect x="174.8" y="185.5" width="21.4" height="7" rx="2.5" fill="#747476"/>
<rect x="207.6" y="167" width="25.4" height="26.6" rx="4" fill="#616163" stroke="#4b4b4d" stroke-width="1"/>
<rect x="208.79999999999998" y="168" width="23" height="16" rx="3.5" fill="#929294" stroke="#5a5a5c" stroke-width="0.7"/>
<path d="M211.6,173.5 H225.6 Q228.6,173.5 228.6,176 Q228.6,178.5 225.6,178.5 H215.6" fill="none" stroke="#555557" stroke-width="1.2"/>
<rect x="209.6" y="185.5" width="21.4" height="7" rx="2.5" fill="#747476"/>
<g font-weight="700" font-size="7.6" fill="#f4f4f4" text-anchor="middle" letter-spacing="0.5">
<text x="185.8" y="163.2">AUX</text><text x="222.5" y="163.2">POWER</text>
<text x="185.2" y="205">LINE</text><text x="220.5" y="205">MUTE</text>
</g>
<circle cx="203" cy="236" r="31" fill="#88888b" stroke="#6c6c6f" stroke-width="1"/>
<rect x="-3.1" y="-3.1" width="6.2" height="6.2" fill="#161616" transform="translate(194.88,211.72) rotate(-18)"/>
<rect x="-3.1" y="-3.1" width="6.2" height="6.2" fill="#161616" transform="translate(211.12,211.72) rotate(18)"/>
<text x="0" y="3.2" font-size="9" font-weight="700" fill="#fafafa" text-anchor="middle" transform="translate(203.00,210.60) rotate(0)">1</text>
<rect x="-3.1" y="-3.1" width="6.2" height="6.2" fill="#161616" transform="translate(219.96,216.83) rotate(42)"/>
<rect x="-3.1" y="-3.1" width="6.2" height="6.2" fill="#161616" transform="translate(228.09,230.90) rotate(78)"/>
<text x="0" y="3.2" font-size="9" font-weight="700" fill="#fafafa" text-anchor="middle" transform="translate(225.00,223.30) rotate(60)">2</text>
<rect x="-3.1" y="-3.1" width="6.2" height="6.2" fill="#161616" transform="translate(228.09,241.10) rotate(102)"/>
<rect x="-3.1" y="-3.1" width="6.2" height="6.2" fill="#161616" transform="translate(219.96,255.17) rotate(138)"/>
<text x="0" y="3.2" font-size="9" font-weight="700" fill="#fafafa" text-anchor="middle" transform="translate(225.00,248.70) rotate(-60)">3</text>
<rect x="-3.1" y="-3.1" width="6.2" height="6.2" fill="#161616" transform="translate(211.12,260.28) rotate(162)"/>
<rect x="-3.1" y="-3.1" width="6.2" height="6.2" fill="#161616" transform="translate(194.88,260.28) rotate(198)"/>
<text x="0" y="3.2" font-size="9" font-weight="700" fill="#fafafa" text-anchor="middle" transform="translate(203.00,261.40) rotate(0)">4</text>
<rect x="-3.1" y="-3.1" width="6.2" height="6.2" fill="#161616" transform="translate(186.04,255.17) rotate(222)"/>
<rect x="-3.1" y="-3.1" width="6.2" height="6.2" fill="#161616" transform="translate(177.91,241.10) rotate(258)"/>
<text x="0" y="3.2" font-size="9" font-weight="700" fill="#fafafa" text-anchor="middle" transform="translate(181.00,248.70) rotate(60)">5</text>
<rect x="-3.1" y="-3.1" width="6.2" height="6.2" fill="#161616" transform="translate(177.91,230.90) rotate(282)"/>
<rect x="-3.1" y="-3.1" width="6.2" height="6.2" fill="#161616" transform="translate(186.04,216.83) rotate(318)"/>
<text x="0" y="3.2" font-size="9" font-weight="700" fill="#fafafa" text-anchor="middle" transform="translate(181.00,223.30) rotate(300)">6</text>
<circle cx="203" cy="236" r="16.5" fill="#6a6a6c"/>
<circle cx="203" cy="236" r="14.6" fill="url(#gKnob)" stroke="#4c4c4e" stroke-width="1"/>
<rect x="175.6" y="309.6" width="7.8" height="7.2" rx="1" fill="#e8201f" stroke="#a01b1b" stroke-width="0.8"/><rect x="177.6" y="311.4" width="3.8" height="3.4" fill="#ff4a3c"/>
<rect x="225.2" y="310.2" width="7.8" height="7.2" rx="1" fill="#e8201f" stroke="#a01b1b" stroke-width="0.8"/><rect x="227.2" y="312" width="3.8" height="3.4" fill="#ff4a3c"/>
</g>
<text transform="translate(274.6,270.5) rotate(-90) skewX(-8)" font-size="8.4" font-weight="700" fill="#f7f7f7" stroke="#f7f7f7" stroke-width="0.35" letter-spacing="1.2" textLength="110" lengthAdjust="spacingAndGlyphs">TRANSMITTER</text>
<text transform="translate(281.2,268.5) rotate(-90) skewX(-8)" font-size="3.9" font-weight="700" fill="#ececec" textLength="108" lengthAdjust="spacing">WIRELESS IN-EAR MONITOR SYSTEM</text>
<rect x="261.8" y="273.5" width="3.8" height="30" rx="1.9" fill="#48484a" stroke="#c4c4c6" stroke-width="0.7"/>
<path d="M160.4,308 Q161.5,315.6 168,317 Q206,321 256,321.5 L278,314 Q284,312 285,305" fill="none" stroke="#68686a" stroke-width="1.6"/>
</g>
<g transform="translate(616,0)" font-family="'Liberation Sans', sans-serif">
<path d="M195,348 L195.4,385 Q196,393.6 206,397.4 Q219.5,401.4 233,397.4 Q243,393.6 243.6,385 L244,348 Z" fill="url(#gCyl2)"/>
<path d="M185.6,312 L188.3,352.5 Q220,369 250.5,353.5 L253.5,312 Z" fill="url(#gCyl1)"/>
<path d="M188.3,352.5 Q220,369 250.5,353.5" fill="none" stroke="#444446" stroke-width="1.2"/><path d="M198,391 Q203,396.4 219.5,397.8 Q236,396.4 241,391" fill="none" stroke="#8e8e90" stroke-width="1.3"/>
<path d="M190.6,16.4 Q190.6,13.4 196,13.2 Q221,11.6 247,13.2 Q253,13.4 253,16.4 L253,55 L190.6,55 Z" fill="url(#gXlr)"/>
<path d="M191.4,15.4 Q221,12 252.2,15.4" fill="none" stroke="#c4bfb3" stroke-width="1.6"/>
<path d="M188.6,54 Q221,51.6 254.2,54 L254.8,63.4 Q221,69 188,63.4 Z" fill="#e9e6dd"/>
<rect x="188.8" y="54.2" width="2" height="11" fill="#3a372f"/>
<rect x="191.6" y="54.2" width="1.6" height="11" fill="#f8f7f3"/>
<rect x="193.6" y="54.2" width="2.4" height="11" fill="#2f2c26"/>
<rect x="196.8" y="54.2" width="1.8" height="11" fill="#f8f7f3"/>
<rect x="199" y="54.2" width="2.2" height="11" fill="#55514a"/>
<rect x="202" y="54.2" width="1.6" height="11" fill="#fdfdfb"/>
<rect x="217.4" y="54.2" width="3" height="11" fill="#8e96a2"/>
<rect x="222" y="54.2" width="1.6" height="11" fill="#fdfdfb"/>
<rect x="227.4" y="54.2" width="3.2" height="11" fill="#97a0ad"/>
<rect x="233" y="54.2" width="1.6" height="11" fill="#fdfdfb"/>
<rect x="235.4" y="54.2" width="3.2" height="11" fill="#a3abb6"/>
<rect x="241" y="54.2" width="2" height="11" fill="#6a665d"/>
<rect x="243.6" y="54.2" width="1.6" height="11" fill="#fdfdfb"/>
<rect x="245.6" y="54.2" width="2.4" height="11" fill="#3a372f"/>
<rect x="248.6" y="54.2" width="1.6" height="11" fill="#f4f2ec"/>
<rect x="250.6" y="54.2" width="2.2" height="11" fill="#4a463e"/>
<rect x="253" y="54.2" width="1.4" height="11" fill="#d9d5c8"/>
<path d="M217,54 h22 v6 h-22z" fill="#f1efe9" fill-opacity="0.85"/>
<path d="M188.6,54 Q221,51.4 254.2,54" fill="none" stroke="#6a665c" stroke-width="1.1"/>
<path d="M205.4,35.8 L217.4,37.4 L216.2,65.6 L203.2,65 Z" fill="#fcfbf8"/>
<path d="M205.6,35.8 L203.4,65" fill="none" stroke="#25231e" stroke-width="1.7"/>
<path d="M205.4,35.8 L217.4,37.4" fill="none" stroke="#6d695f" stroke-width="0.8"/>
<path d="M208.2,37.2 L216.6,38.4 L216.4,40.6 L208,39.4 Z" fill="#d5d1c6"/>
<path d="M216.6,41 L215.6,53.6" stroke="#8b877c" stroke-width="1"/>
<path d="M209.6,60.4 L217.8,52.4 L218.2,60.6 Z" fill="#1c1a16"/>
<path d="M204,60.6 H216.4" stroke="#8b877c" stroke-width="0.7"/>
<path d="M186.8,64.4 Q221,70.6 254.6,64.4 L254.6,68 Q221,73.6 186.8,68 Z" fill="#1d1c19"/>
<ellipse cx="220.8" cy="70" rx="37.8" ry="3.6" fill="#0c0c0c"/>
<path d="M186,73.5 Q221,77 256,73.5 Q262,74 268,78 L287,89.5 L287,100 L154,100 L154,92.5 Q160,84 176,77 Q181,74.5 186,73.5 Z" fill="url(#gCreamTop)"/>
<path d="M154,92 Q200,86 246,88 L256,92 L256,158 L154,156 Z" fill="url(#gCreamF)"/>
<path d="M246,88 Q268,84 287,89.5 L286,150 L255,160 L255,95 Z" fill="url(#gCreamS)"/>
<path d="M154,93 Q200,87 246,89" fill="none" stroke="#fdfcf8" stroke-width="1.6"/>
<path d="M154.5,93 V152" fill="none" stroke="#c5bfad" stroke-width="1.2"/>
<path d="M172,81 Q204,77.5 237,81 Q233,92 230,112 Q228,132 222,138 Q207,143 193,138 Q186,132 181,110 Q177,92 172,81 Z" fill="#f4f1e7" stroke="#cbc5b2" stroke-width="1"/>
<path d="M172,81 Q177,92 181,110 Q186,132 193,138" fill="none" stroke="#d5cfbc" stroke-width="2"/>
<path d="M237,81 Q233,92 230,112 Q228,132 222,138" fill="none" stroke="#fffefb" stroke-width="1.6"/>
<path d="M192,86.5 Q206,84.5 220,86.5 Q227,88 227,96 Q226,112 222,121 Q219,126 206,126 Q193,126 190,121 Q185.5,110 184.5,96 Q185,88 192,86.5 Z" fill="url(#gBtn)" stroke="#77736a" stroke-width="1"/>
<path d="M220,86.5 Q227,88 227,96 Q226,112 222,121" fill="none" stroke="#3f3c36" stroke-width="1.3"/>
<path d="M154,155 Q156,149.5 168,148.5 L240,148.5 Q252,150 256,157 L256,321.5 Q206,321 168,317 Q161.5,315.6 160.4,308 L155.4,220 Z" fill="url(#gGreyF)"/>
<path d="M256,157 Q262,146 287,136 L285,305 Q284,312 278,314 L256,321.5 Z" fill="url(#gGreyS)"/>
<path d="M256.5,158 Q262,147.5 286.5,137.5" fill="none" stroke="#e9e9e9" stroke-width="1.3"/>
<path d="M256,158 V321" fill="none" stroke="#b8b8ba" stroke-width="1.4"/>
<path d="M154,155 Q156,149.5 168,148.5 L240,148.5 Q252,150 256,157" fill="none" stroke="#c9c4b4" stroke-width="1"/>
<g transform="translate(0,-10.6) skewY(3)">
<path d="M163,160 Q163,153 172,153 L236,153 Q244,153 244,160 L243,232 Q240,262 204,268 Q170,264 168,232 Z" fill="#7f7f82" stroke="#737376" stroke-width="0.8"/>
<rect x="172.8" y="167" width="25.4" height="26.6" rx="4" fill="#616163" stroke="#4b4b4d" stroke-width="1"/>
<rect x="174.0" y="168" width="23" height="16" rx="3.5" fill="#929294" stroke="#5a5a5c" stroke-width="0.7"/>
<path d="M176.8,173.5 H190.8 Q193.8,173.5 193.8,176 Q193.8,178.5 190.8,178.5 H180.8" fill="none" stroke="#555557" stroke-width="1.2"/>
<rect x="174.8" y="185.5" width="21.4" height="7" rx="2.5" fill="#747476"/>
<rect x="207.6" y="167" width="25.4" height="26.6" rx="4" fill="#616163" stroke="#4b4b4d" stroke-width="1"/>
<rect x="208.79999999999998" y="168" width="23" height="16" rx="3.5" fill="#929294" stroke="#5a5a5c" stroke-width="0.7"/>
<path d="M211.6,173.5 H225.6 Q228.6,173.5 228.6,176 Q228.6,178.5 225.6,178.5 H215.6" fill="none" stroke="#555557" stroke-width="1.2"/>
<rect x="209.6" y="185.5" width="21.4" height="7" rx="2.5" fill="#747476"/>
<g font-weight="700" font-size="7.6" fill="#f4f4f4" text-anchor="middle" letter-spacing="0.5">
<text x="185.8" y="163.2">AUX</text><text x="222.5" y="163.2">POWER</text>
<text x="185.2" y="205">LINE</text><text x="220.5" y="205">MUTE</text>
</g>
<circle cx="203" cy="236" r="31" fill="#88888b" stroke="#6c6c6f" stroke-width="1"/>
<rect x="-3.1" y="-3.1" width="6.2" height="6.2" fill="#161616" transform="translate(194.88,211.72) rotate(-18)"/>
<rect x="-3.1" y="-3.1" width="6.2" height="6.2" fill="#161616" transform="translate(211.12,211.72) rotate(18)"/>
<text x="0" y="3.2" font-size="9" font-weight="700" fill="#fafafa" text-anchor="middle" transform="translate(203.00,210.60) rotate(0)">1</text>
<rect x="-3.1" y="-3.1" width="6.2" height="6.2" fill="#161616" transform="translate(219.96,216.83) rotate(42)"/>
<rect x="-3.1" y="-3.1" width="6.2" height="6.2" fill="#161616" transform="translate(228.09,230.90) rotate(78)"/>
<text x="0" y="3.2" font-size="9" font-weight="700" fill="#fafafa" text-anchor="middle" transform="translate(225.00,223.30) rotate(60)">2</text>
<rect x="-3.1" y="-3.1" width="6.2" height="6.2" fill="#161616" transform="translate(228.09,241.10) rotate(102)"/>
<rect x="-3.1" y="-3.1" width="6.2" height="6.2" fill="#161616" transform="translate(219.96,255.17) rotate(138)"/>
<text x="0" y="3.2" font-size="9" font-weight="700" fill="#fafafa" text-anchor="middle" transform="translate(225.00,248.70) rotate(-60)">3</text>
<rect x="-3.1" y="-3.1" width="6.2" height="6.2" fill="#161616" transform="translate(211.12,260.28) rotate(162)"/>
<rect x="-3.1" y="-3.1" width="6.2" height="6.2" fill="#161616" transform="translate(194.88,260.28) rotate(198)"/>
<text x="0" y="3.2" font-size="9" font-weight="700" fill="#fafafa" text-anchor="middle" transform="translate(203.00,261.40) rotate(0)">4</text>
<rect x="-3.1" y="-3.1" width="6.2" height="6.2" fill="#161616" transform="translate(186.04,255.17) rotate(222)"/>
<rect x="-3.1" y="-3.1" width="6.2" height="6.2" fill="#161616" transform="translate(177.91,241.10) rotate(258)"/>
<text x="0" y="3.2" font-size="9" font-weight="700" fill="#fafafa" text-anchor="middle" transform="translate(181.00,248.70) rotate(60)">5</text>
<rect x="-3.1" y="-3.1" width="6.2" height="6.2" fill="#161616" transform="translate(177.91,230.90) rotate(282)"/>
<rect x="-3.1" y="-3.1" width="6.2" height="6.2" fill="#161616" transform="translate(186.04,216.83) rotate(318)"/>
<text x="0" y="3.2" font-size="9" font-weight="700" fill="#fafafa" text-anchor="middle" transform="translate(181.00,223.30) rotate(300)">6</text>
<circle cx="203" cy="236" r="16.5" fill="#6a6a6c"/>
<circle cx="203" cy="236" r="14.6" fill="url(#gKnob)" stroke="#4c4c4e" stroke-width="1"/>
<rect x="175.6" y="309.6" width="7.8" height="7.2" rx="1" fill="#e8201f" stroke="#a01b1b" stroke-width="0.8"/><rect x="177.6" y="311.4" width="3.8" height="3.4" fill="#ff4a3c"/>
<rect x="225.2" y="310.2" width="7.8" height="7.2" rx="1" fill="#e8201f" stroke="#a01b1b" stroke-width="0.8"/><rect x="227.2" y="312" width="3.8" height="3.4" fill="#ff4a3c"/>
</g>
<text transform="translate(274.6,270.5) rotate(-90) skewX(-8)" font-size="8.4" font-weight="700" fill="#f7f7f7" stroke="#f7f7f7" stroke-width="0.35" letter-spacing="1.2" textLength="110" lengthAdjust="spacingAndGlyphs">TRANSMITTER</text>
<text transform="translate(281.2,268.5) rotate(-90) skewX(-8)" font-size="3.9" font-weight="700" fill="#ececec" textLength="108" lengthAdjust="spacing">WIRELESS IN-EAR MONITOR SYSTEM</text>
<rect x="261.8" y="273.5" width="3.8" height="30" rx="1.9" fill="#48484a" stroke="#c4c4c6" stroke-width="0.7"/>
<path d="M160.4,308 Q161.5,315.6 168,317 Q206,321 256,321.5 L278,314 Q284,312 285,305" fill="none" stroke="#68686a" stroke-width="1.6"/>
</g>
<defs>
<linearGradient id="rBody" x1="0" x2="1" y1="0" y2="0">
 <stop offset="0" stop-color="#4f4f52"/><stop offset="0.07" stop-color="#5e5e61"/><stop offset="0.1" stop-color="#8a8a8d"/>
 <stop offset="0.5" stop-color="#7c7c7f"/><stop offset="1" stop-color="#6a6a6d"/>
</linearGradient>
<linearGradient id="rTop" x1="0" x2="0" y1="0" y2="1">
 <stop offset="0" stop-color="#a4a4a7"/><stop offset="0.25" stop-color="#8d8d90"/><stop offset="1" stop-color="#7e7e81"/>
</linearGradient>
<linearGradient id="rPanel" x1="0" x2="0" y1="0" y2="1">
 <stop offset="0" stop-color="#e2e2e4"/><stop offset="0.14" stop-color="#cfcfd1"/><stop offset="0.3" stop-color="#a0a0a3"/>
 <stop offset="0.62" stop-color="#86868a"/><stop offset="0.86" stop-color="#68686b"/><stop offset="1" stop-color="#4e4e51"/>
</linearGradient>
<radialGradient id="rKn" cx="0.5" cy="0.45" r="0.6">
 <stop offset="0" stop-color="#b5b5b5"/><stop offset="1" stop-color="#858585"/>
</radialGradient>
</defs>
<g transform="translate(0,0)" font-family="'Liberation Sans', sans-serif">
<rect x="134" y="439.8" width="9" height="5" rx="1" fill="#77777a"/><rect x="136" y="438.6" width="4" height="2" fill="#8c8c8f"/>
<rect x="152" y="438.8" width="11.4" height="6" rx="1.2" fill="#8d8d90"/><rect x="154.5" y="437.6" width="6.4" height="2.2" rx="0.8" fill="#6d6d70"/>
<rect x="92" y="443" width="85.6" height="104" rx="8" fill="url(#rBody)"/>
<path d="M100,444 H170 Q176.6,444 176.6,451 V478 H99.5 Z" fill="url(#rTop)"/>
<path d="M99,446 Q135,442.6 172,444.6" fill="none" stroke="#b9b9bc" stroke-width="1"/>
<rect x="94" y="492" width="1.6" height="12" rx="0.8" fill="#3f3f42"/>
<path d="M92.6,536 Q92.8,546.4 100,546.4 H169.6 Q177,546.4 177.2,538" fill="none" stroke="#3c3c3f" stroke-width="1.6"/>
<rect x="101.6" y="478.6" width="74.8" height="66.6" rx="6.5" fill="url(#rPanel)" stroke="#5b5b5e" stroke-width="1.1"/>
<path d="M103,497 V538 Q103,543.5 109,543.8 H169 Q175,543.5 175.2,538 V497" fill="none" stroke="#9b9b9e" stroke-width="0.9"/>
<g transform="translate(111.5,488) rotate(40)"><rect x="-5.2" y="-2" width="10.4" height="4" rx="2" fill="#5e5e61" stroke="#d9d9db" stroke-width="0.8"/><circle cx="-2.6" cy="0" r="1.5" fill="#e6e6e8" stroke="#4c4c4f" stroke-width="0.5"/></g>
<g transform="translate(167.2,486.6) rotate(-40)"><rect x="-5.2" y="-2" width="10.4" height="4" rx="2" fill="#5e5e61" stroke="#d9d9db" stroke-width="0.8"/><circle cx="-2.6" cy="0" r="1.5" fill="#e6e6e8" stroke="#4c4c4f" stroke-width="0.5"/></g>
<g transform="translate(110.6,536.6) rotate(-40)"><rect x="-5.2" y="-2" width="10.4" height="4" rx="2" fill="#5e5e61" stroke="#d9d9db" stroke-width="0.8"/><circle cx="2.6" cy="0" r="1.5" fill="#e6e6e8" stroke="#4c4c4f" stroke-width="0.5"/></g>
<g transform="translate(168.6,535.8) rotate(40)"><rect x="-5.2" y="-2" width="10.4" height="4" rx="2" fill="#5e5e61" stroke="#d9d9db" stroke-width="0.8"/><circle cx="2.6" cy="0" r="1.5" fill="#e6e6e8" stroke="#4c4c4f" stroke-width="0.5"/></g>
<rect x="119.2" y="493.4" width="45" height="37.4" rx="5.5" fill="#0b0b0c"/>
<path d="M121,498 Q121,495 125,494.8 H158 Q162.4,495 162.6,498" fill="none" stroke="#3a3a3d" stroke-width="0.8"/>
<text x="128.4" y="516.6" font-size="16" font-weight="700" fill="#ffffff" stroke="#ffffff" stroke-width="0.7" textLength="11" lengthAdjust="spacingAndGlyphs">X</text>
<text x="139.6" y="516.4" font-size="9.4" font-weight="700" fill="#ffffff" textLength="16.6" lengthAdjust="spacingAndGlyphs">V<tspan fill="#e0262b">I</tspan>VE</text>
<path d="M144.2,516.4 L146.2,508.6 L148.2,516.4 Z" fill="#e0262b"/>
<text x="129" y="522.6" font-size="3.6" font-weight="700" fill="#ffffff" textLength="27" lengthAdjust="spacingAndGlyphs">U4 RECEIVER</text>
<circle cx="116.3" cy="461" r="11.6" fill="#1a1a1a" stroke="#1a1a1a" stroke-width="2.6" stroke-dasharray="1.5 1.3"/>
<circle cx="116.3" cy="461" r="9.6" fill="#f2f2f2"/>
<circle cx="116.3" cy="461" r="8.3" fill="none" stroke="#2a2a2a" stroke-width="1.6" stroke-dasharray="0.6 1.1"/>
<circle cx="116.3" cy="461" r="6.6" fill="#111"/>
<circle cx="116.3" cy="461" r="5" fill="#f7f7f7"/>
<text x="116.3" y="464.1" font-size="8.6" font-weight="700" fill="#111" text-anchor="middle">V</text>
<circle cx="165.4" cy="459.8" r="12.8" fill="#3b424d"/>
<circle cx="165.4" cy="459.8" r="8.7" fill="none" stroke="#3c91dc" stroke-width="4.8" stroke-dasharray="4.2 1.27"/>
<circle cx="165.4" cy="459.8" r="6.2" fill="#4a4f58"/>
<circle cx="165.4" cy="459.8" r="5.2" fill="url(#rKn)"/>
<text x="131.6" y="462.6" font-size="5.4" font-weight="700" fill="#d4d4d6" fill-opacity="0.75" textLength="14" lengthAdjust="spacingAndGlyphs">Xvive</text>
<rect x="132.4" y="466.4" width="4.8" height="4.8" rx="1.2" fill="#d8262a" stroke="#6d2022" stroke-width="0.6"/>
<rect x="140.4" y="466.4" width="4.8" height="4.8" rx="1.2" fill="#2fbf4a" stroke="#1f6a2d" stroke-width="0.6"/>
</g>
<g transform="translate(130,0)" font-family="'Liberation Sans', sans-serif">
<rect x="134" y="439.8" width="9" height="5" rx="1" fill="#77777a"/><rect x="136" y="438.6" width="4" height="2" fill="#8c8c8f"/>
<rect x="152" y="438.8" width="11.4" height="6" rx="1.2" fill="#8d8d90"/><rect x="154.5" y="437.6" width="6.4" height="2.2" rx="0.8" fill="#6d6d70"/>
<rect x="92" y="443" width="85.6" height="104" rx="8" fill="url(#rBody)"/>
<path d="M100,444 H170 Q176.6,444 176.6,451 V478 H99.5 Z" fill="url(#rTop)"/>
<path d="M99,446 Q135,442.6 172,444.6" fill="none" stroke="#b9b9bc" stroke-width="1"/>
<rect x="94" y="492" width="1.6" height="12" rx="0.8" fill="#3f3f42"/>
<path d="M92.6,536 Q92.8,546.4 100,546.4 H169.6 Q177,546.4 177.2,538" fill="none" stroke="#3c3c3f" stroke-width="1.6"/>
<rect x="101.6" y="478.6" width="74.8" height="66.6" rx="6.5" fill="url(#rPanel)" stroke="#5b5b5e" stroke-width="1.1"/>
<path d="M103,497 V538 Q103,543.5 109,543.8 H169 Q175,543.5 175.2,538 V497" fill="none" stroke="#9b9b9e" stroke-width="0.9"/>
<g transform="translate(111.5,488) rotate(40)"><rect x="-5.2" y="-2" width="10.4" height="4" rx="2" fill="#5e5e61" stroke="#d9d9db" stroke-width="0.8"/><circle cx="-2.6" cy="0" r="1.5" fill="#e6e6e8" stroke="#4c4c4f" stroke-width="0.5"/></g>
<g transform="translate(167.2,486.6) rotate(-40)"><rect x="-5.2" y="-2" width="10.4" height="4" rx="2" fill="#5e5e61" stroke="#d9d9db" stroke-width="0.8"/><circle cx="-2.6" cy="0" r="1.5" fill="#e6e6e8" stroke="#4c4c4f" stroke-width="0.5"/></g>
<g transform="translate(110.6,536.6) rotate(-40)"><rect x="-5.2" y="-2" width="10.4" height="4" rx="2" fill="#5e5e61" stroke="#d9d9db" stroke-width="0.8"/><circle cx="2.6" cy="0" r="1.5" fill="#e6e6e8" stroke="#4c4c4f" stroke-width="0.5"/></g>
<g transform="translate(168.6,535.8) rotate(40)"><rect x="-5.2" y="-2" width="10.4" height="4" rx="2" fill="#5e5e61" stroke="#d9d9db" stroke-width="0.8"/><circle cx="2.6" cy="0" r="1.5" fill="#e6e6e8" stroke="#4c4c4f" stroke-width="0.5"/></g>
<rect x="119.2" y="493.4" width="45" height="37.4" rx="5.5" fill="#0b0b0c"/>
<path d="M121,498 Q121,495 125,494.8 H158 Q162.4,495 162.6,498" fill="none" stroke="#3a3a3d" stroke-width="0.8"/>
<text x="128.4" y="516.6" font-size="16" font-weight="700" fill="#ffffff" stroke="#ffffff" stroke-width="0.7" textLength="11" lengthAdjust="spacingAndGlyphs">X</text>
<text x="139.6" y="516.4" font-size="9.4" font-weight="700" fill="#ffffff" textLength="16.6" lengthAdjust="spacingAndGlyphs">V<tspan fill="#e0262b">I</tspan>VE</text>
<path d="M144.2,516.4 L146.2,508.6 L148.2,516.4 Z" fill="#e0262b"/>
<text x="129" y="522.6" font-size="3.6" font-weight="700" fill="#ffffff" textLength="27" lengthAdjust="spacingAndGlyphs">U4 RECEIVER</text>
<circle cx="116.3" cy="461" r="11.6" fill="#1a1a1a" stroke="#1a1a1a" stroke-width="2.6" stroke-dasharray="1.5 1.3"/>
<circle cx="116.3" cy="461" r="9.6" fill="#f2f2f2"/>
<circle cx="116.3" cy="461" r="8.3" fill="none" stroke="#2a2a2a" stroke-width="1.6" stroke-dasharray="0.6 1.1"/>
<circle cx="116.3" cy="461" r="6.6" fill="#111"/>
<circle cx="116.3" cy="461" r="5" fill="#f7f7f7"/>
<text x="116.3" y="464.1" font-size="8.6" font-weight="700" fill="#111" text-anchor="middle">V</text>
<circle cx="165.4" cy="459.8" r="12.8" fill="#3b424d"/>
<circle cx="165.4" cy="459.8" r="8.7" fill="none" stroke="#3c91dc" stroke-width="4.8" stroke-dasharray="4.2 1.27"/>
<circle cx="165.4" cy="459.8" r="6.2" fill="#4a4f58"/>
<circle cx="165.4" cy="459.8" r="5.2" fill="url(#rKn)"/>
<text x="131.6" y="462.6" font-size="5.4" font-weight="700" fill="#d4d4d6" fill-opacity="0.75" textLength="14" lengthAdjust="spacingAndGlyphs">Xvive</text>
<rect x="132.4" y="466.4" width="4.8" height="4.8" rx="1.2" fill="#d8262a" stroke="#6d2022" stroke-width="0.6"/>
<rect x="140.4" y="466.4" width="4.8" height="4.8" rx="1.2" fill="#2fbf4a" stroke="#1f6a2d" stroke-width="0.6"/>
</g>
<g transform="translate(515,0)" font-family="'Liberation Sans', sans-serif">
<rect x="134" y="439.8" width="9" height="5" rx="1" fill="#77777a"/><rect x="136" y="438.6" width="4" height="2" fill="#8c8c8f"/>
<rect x="152" y="438.8" width="11.4" height="6" rx="1.2" fill="#8d8d90"/><rect x="154.5" y="437.6" width="6.4" height="2.2" rx="0.8" fill="#6d6d70"/>
<rect x="92" y="443" width="85.6" height="104" rx="8" fill="url(#rBody)"/>
<path d="M100,444 H170 Q176.6,444 176.6,451 V478 H99.5 Z" fill="url(#rTop)"/>
<path d="M99,446 Q135,442.6 172,444.6" fill="none" stroke="#b9b9bc" stroke-width="1"/>
<rect x="94" y="492" width="1.6" height="12" rx="0.8" fill="#3f3f42"/>
<path d="M92.6,536 Q92.8,546.4 100,546.4 H169.6 Q177,546.4 177.2,538" fill="none" stroke="#3c3c3f" stroke-width="1.6"/>
<rect x="101.6" y="478.6" width="74.8" height="66.6" rx="6.5" fill="url(#rPanel)" stroke="#5b5b5e" stroke-width="1.1"/>
<path d="M103,497 V538 Q103,543.5 109,543.8 H169 Q175,543.5 175.2,538 V497" fill="none" stroke="#9b9b9e" stroke-width="0.9"/>
<g transform="translate(111.5,488) rotate(40)"><rect x="-5.2" y="-2" width="10.4" height="4" rx="2" fill="#5e5e61" stroke="#d9d9db" stroke-width="0.8"/><circle cx="-2.6" cy="0" r="1.5" fill="#e6e6e8" stroke="#4c4c4f" stroke-width="0.5"/></g>
<g transform="translate(167.2,486.6) rotate(-40)"><rect x="-5.2" y="-2" width="10.4" height="4" rx="2" fill="#5e5e61" stroke="#d9d9db" stroke-width="0.8"/><circle cx="-2.6" cy="0" r="1.5" fill="#e6e6e8" stroke="#4c4c4f" stroke-width="0.5"/></g>
<g transform="translate(110.6,536.6) rotate(-40)"><rect x="-5.2" y="-2" width="10.4" height="4" rx="2" fill="#5e5e61" stroke="#d9d9db" stroke-width="0.8"/><circle cx="2.6" cy="0" r="1.5" fill="#e6e6e8" stroke="#4c4c4f" stroke-width="0.5"/></g>
<g transform="translate(168.6,535.8) rotate(40)"><rect x="-5.2" y="-2" width="10.4" height="4" rx="2" fill="#5e5e61" stroke="#d9d9db" stroke-width="0.8"/><circle cx="2.6" cy="0" r="1.5" fill="#e6e6e8" stroke="#4c4c4f" stroke-width="0.5"/></g>
<rect x="119.2" y="493.4" width="45" height="37.4" rx="5.5" fill="#0b0b0c"/>
<path d="M121,498 Q121,495 125,494.8 H158 Q162.4,495 162.6,498" fill="none" stroke="#3a3a3d" stroke-width="0.8"/>
<text x="128.4" y="516.6" font-size="16" font-weight="700" fill="#ffffff" stroke="#ffffff" stroke-width="0.7" textLength="11" lengthAdjust="spacingAndGlyphs">X</text>
<text x="139.6" y="516.4" font-size="9.4" font-weight="700" fill="#ffffff" textLength="16.6" lengthAdjust="spacingAndGlyphs">V<tspan fill="#e0262b">I</tspan>VE</text>
<path d="M144.2,516.4 L146.2,508.6 L148.2,516.4 Z" fill="#e0262b"/>
<text x="129" y="522.6" font-size="3.6" font-weight="700" fill="#ffffff" textLength="27" lengthAdjust="spacingAndGlyphs">U4 RECEIVER</text>
<circle cx="116.3" cy="461" r="11.6" fill="#1a1a1a" stroke="#1a1a1a" stroke-width="2.6" stroke-dasharray="1.5 1.3"/>
<circle cx="116.3" cy="461" r="9.6" fill="#f2f2f2"/>
<circle cx="116.3" cy="461" r="8.3" fill="none" stroke="#2a2a2a" stroke-width="1.6" stroke-dasharray="0.6 1.1"/>
<circle cx="116.3" cy="461" r="6.6" fill="#111"/>
<circle cx="116.3" cy="461" r="5" fill="#f7f7f7"/>
<text x="116.3" y="464.1" font-size="8.6" font-weight="700" fill="#111" text-anchor="middle">V</text>
<circle cx="165.4" cy="459.8" r="12.8" fill="#3b424d"/>
<circle cx="165.4" cy="459.8" r="8.7" fill="none" stroke="#3c91dc" stroke-width="4.8" stroke-dasharray="4.2 1.27"/>
<circle cx="165.4" cy="459.8" r="6.2" fill="#4a4f58"/>
<circle cx="165.4" cy="459.8" r="5.2" fill="url(#rKn)"/>
<text x="131.6" y="462.6" font-size="5.4" font-weight="700" fill="#d4d4d6" fill-opacity="0.75" textLength="14" lengthAdjust="spacingAndGlyphs">Xvive</text>
<rect x="132.4" y="466.4" width="4.8" height="4.8" rx="1.2" fill="#d8262a" stroke="#6d2022" stroke-width="0.6"/>
<rect x="140.4" y="466.4" width="4.8" height="4.8" rx="1.2" fill="#2fbf4a" stroke="#1f6a2d" stroke-width="0.6"/>
</g>
<g transform="translate(689,0)" font-family="'Liberation Sans', sans-serif">
<rect x="134" y="439.8" width="9" height="5" rx="1" fill="#77777a"/><rect x="136" y="438.6" width="4" height="2" fill="#8c8c8f"/>
<rect x="152" y="438.8" width="11.4" height="6" rx="1.2" fill="#8d8d90"/><rect x="154.5" y="437.6" width="6.4" height="2.2" rx="0.8" fill="#6d6d70"/>
<rect x="92" y="443" width="85.6" height="104" rx="8" fill="url(#rBody)"/>
<path d="M100,444 H170 Q176.6,444 176.6,451 V478 H99.5 Z" fill="url(#rTop)"/>
<path d="M99,446 Q135,442.6 172,444.6" fill="none" stroke="#b9b9bc" stroke-width="1"/>
<rect x="94" y="492" width="1.6" height="12" rx="0.8" fill="#3f3f42"/>
<path d="M92.6,536 Q92.8,546.4 100,546.4 H169.6 Q177,546.4 177.2,538" fill="none" stroke="#3c3c3f" stroke-width="1.6"/>
<rect x="101.6" y="478.6" width="74.8" height="66.6" rx="6.5" fill="url(#rPanel)" stroke="#5b5b5e" stroke-width="1.1"/>
<path d="M103,497 V538 Q103,543.5 109,543.8 H169 Q175,543.5 175.2,538 V497" fill="none" stroke="#9b9b9e" stroke-width="0.9"/>
<g transform="translate(111.5,488) rotate(40)"><rect x="-5.2" y="-2" width="10.4" height="4" rx="2" fill="#5e5e61" stroke="#d9d9db" stroke-width="0.8"/><circle cx="-2.6" cy="0" r="1.5" fill="#e6e6e8" stroke="#4c4c4f" stroke-width="0.5"/></g>
<g transform="translate(167.2,486.6) rotate(-40)"><rect x="-5.2" y="-2" width="10.4" height="4" rx="2" fill="#5e5e61" stroke="#d9d9db" stroke-width="0.8"/><circle cx="-2.6" cy="0" r="1.5" fill="#e6e6e8" stroke="#4c4c4f" stroke-width="0.5"/></g>
<g transform="translate(110.6,536.6) rotate(-40)"><rect x="-5.2" y="-2" width="10.4" height="4" rx="2" fill="#5e5e61" stroke="#d9d9db" stroke-width="0.8"/><circle cx="2.6" cy="0" r="1.5" fill="#e6e6e8" stroke="#4c4c4f" stroke-width="0.5"/></g>
<g transform="translate(168.6,535.8) rotate(40)"><rect x="-5.2" y="-2" width="10.4" height="4" rx="2" fill="#5e5e61" stroke="#d9d9db" stroke-width="0.8"/><circle cx="2.6" cy="0" r="1.5" fill="#e6e6e8" stroke="#4c4c4f" stroke-width="0.5"/></g>
<rect x="119.2" y="493.4" width="45" height="37.4" rx="5.5" fill="#0b0b0c"/>
<path d="M121,498 Q121,495 125,494.8 H158 Q162.4,495 162.6,498" fill="none" stroke="#3a3a3d" stroke-width="0.8"/>
<text x="128.4" y="516.6" font-size="16" font-weight="700" fill="#ffffff" stroke="#ffffff" stroke-width="0.7" textLength="11" lengthAdjust="spacingAndGlyphs">X</text>
<text x="139.6" y="516.4" font-size="9.4" font-weight="700" fill="#ffffff" textLength="16.6" lengthAdjust="spacingAndGlyphs">V<tspan fill="#e0262b">I</tspan>VE</text>
<path d="M144.2,516.4 L146.2,508.6 L148.2,516.4 Z" fill="#e0262b"/>
<text x="129" y="522.6" font-size="3.6" font-weight="700" fill="#ffffff" textLength="27" lengthAdjust="spacingAndGlyphs">U4 RECEIVER</text>
<circle cx="116.3" cy="461" r="11.6" fill="#1a1a1a" stroke="#1a1a1a" stroke-width="2.6" stroke-dasharray="1.5 1.3"/>
<circle cx="116.3" cy="461" r="9.6" fill="#f2f2f2"/>
<circle cx="116.3" cy="461" r="8.3" fill="none" stroke="#2a2a2a" stroke-width="1.6" stroke-dasharray="0.6 1.1"/>
<circle cx="116.3" cy="461" r="6.6" fill="#111"/>
<circle cx="116.3" cy="461" r="5" fill="#f7f7f7"/>
<text x="116.3" y="464.1" font-size="8.6" font-weight="700" fill="#111" text-anchor="middle">V</text>
<circle cx="165.4" cy="459.8" r="12.8" fill="#3b424d"/>
<circle cx="165.4" cy="459.8" r="8.7" fill="none" stroke="#3c91dc" stroke-width="4.8" stroke-dasharray="4.2 1.27"/>
<circle cx="165.4" cy="459.8" r="6.2" fill="#4a4f58"/>
<circle cx="165.4" cy="459.8" r="5.2" fill="url(#rKn)"/>
<text x="131.6" y="462.6" font-size="5.4" font-weight="700" fill="#d4d4d6" fill-opacity="0.75" textLength="14" lengthAdjust="spacingAndGlyphs">Xvive</text>
<rect x="132.4" y="466.4" width="4.8" height="4.8" rx="1.2" fill="#d8262a" stroke="#6d2022" stroke-width="0.6"/>
<rect x="140.4" y="466.4" width="4.8" height="4.8" rx="1.2" fill="#2fbf4a" stroke="#1f6a2d" stroke-width="0.6"/>
</g>
<g transform="translate(865,0)" font-family="'Liberation Sans', sans-serif">
<rect x="134" y="439.8" width="9" height="5" rx="1" fill="#77777a"/><rect x="136" y="438.6" width="4" height="2" fill="#8c8c8f"/>
<rect x="152" y="438.8" width="11.4" height="6" rx="1.2" fill="#8d8d90"/><rect x="154.5" y="437.6" width="6.4" height="2.2" rx="0.8" fill="#6d6d70"/>
<rect x="92" y="443" width="85.6" height="104" rx="8" fill="url(#rBody)"/>
<path d="M100,444 H170 Q176.6,444 176.6,451 V478 H99.5 Z" fill="url(#rTop)"/>
<path d="M99,446 Q135,442.6 172,444.6" fill="none" stroke="#b9b9bc" stroke-width="1"/>
<rect x="94" y="492" width="1.6" height="12" rx="0.8" fill="#3f3f42"/>
<path d="M92.6,536 Q92.8,546.4 100,546.4 H169.6 Q177,546.4 177.2,538" fill="none" stroke="#3c3c3f" stroke-width="1.6"/>
<rect x="101.6" y="478.6" width="74.8" height="66.6" rx="6.5" fill="url(#rPanel)" stroke="#5b5b5e" stroke-width="1.1"/>
<path d="M103,497 V538 Q103,543.5 109,543.8 H169 Q175,543.5 175.2,538 V497" fill="none" stroke="#9b9b9e" stroke-width="0.9"/>
<g transform="translate(111.5,488) rotate(40)"><rect x="-5.2" y="-2" width="10.4" height="4" rx="2" fill="#5e5e61" stroke="#d9d9db" stroke-width="0.8"/><circle cx="-2.6" cy="0" r="1.5" fill="#e6e6e8" stroke="#4c4c4f" stroke-width="0.5"/></g>
<g transform="translate(167.2,486.6) rotate(-40)"><rect x="-5.2" y="-2" width="10.4" height="4" rx="2" fill="#5e5e61" stroke="#d9d9db" stroke-width="0.8"/><circle cx="-2.6" cy="0" r="1.5" fill="#e6e6e8" stroke="#4c4c4f" stroke-width="0.5"/></g>
<g transform="translate(110.6,536.6) rotate(-40)"><rect x="-5.2" y="-2" width="10.4" height="4" rx="2" fill="#5e5e61" stroke="#d9d9db" stroke-width="0.8"/><circle cx="2.6" cy="0" r="1.5" fill="#e6e6e8" stroke="#4c4c4f" stroke-width="0.5"/></g>
<g transform="translate(168.6,535.8) rotate(40)"><rect x="-5.2" y="-2" width="10.4" height="4" rx="2" fill="#5e5e61" stroke="#d9d9db" stroke-width="0.8"/><circle cx="2.6" cy="0" r="1.5" fill="#e6e6e8" stroke="#4c4c4f" stroke-width="0.5"/></g>
<rect x="119.2" y="493.4" width="45" height="37.4" rx="5.5" fill="#0b0b0c"/>
<path d="M121,498 Q121,495 125,494.8 H158 Q162.4,495 162.6,498" fill="none" stroke="#3a3a3d" stroke-width="0.8"/>
<text x="128.4" y="516.6" font-size="16" font-weight="700" fill="#ffffff" stroke="#ffffff" stroke-width="0.7" textLength="11" lengthAdjust="spacingAndGlyphs">X</text>
<text x="139.6" y="516.4" font-size="9.4" font-weight="700" fill="#ffffff" textLength="16.6" lengthAdjust="spacingAndGlyphs">V<tspan fill="#e0262b">I</tspan>VE</text>
<path d="M144.2,516.4 L146.2,508.6 L148.2,516.4 Z" fill="#e0262b"/>
<text x="129" y="522.6" font-size="3.6" font-weight="700" fill="#ffffff" textLength="27" lengthAdjust="spacingAndGlyphs">U4 RECEIVER</text>
<circle cx="116.3" cy="461" r="11.6" fill="#1a1a1a" stroke="#1a1a1a" stroke-width="2.6" stroke-dasharray="1.5 1.3"/>
<circle cx="116.3" cy="461" r="9.6" fill="#f2f2f2"/>
<circle cx="116.3" cy="461" r="8.3" fill="none" stroke="#2a2a2a" stroke-width="1.6" stroke-dasharray="0.6 1.1"/>
<circle cx="116.3" cy="461" r="6.6" fill="#111"/>
<circle cx="116.3" cy="461" r="5" fill="#f7f7f7"/>
<text x="116.3" y="464.1" font-size="8.6" font-weight="700" fill="#111" text-anchor="middle">V</text>
<circle cx="165.4" cy="459.8" r="12.8" fill="#3b424d"/>
<circle cx="165.4" cy="459.8" r="8.7" fill="none" stroke="#3c91dc" stroke-width="4.8" stroke-dasharray="4.2 1.27"/>
<circle cx="165.4" cy="459.8" r="6.2" fill="#4a4f58"/>
<circle cx="165.4" cy="459.8" r="5.2" fill="url(#rKn)"/>
<text x="131.6" y="462.6" font-size="5.4" font-weight="700" fill="#d4d4d6" fill-opacity="0.75" textLength="14" lengthAdjust="spacingAndGlyphs">Xvive</text>
<rect x="132.4" y="466.4" width="4.8" height="4.8" rx="1.2" fill="#d8262a" stroke="#6d2022" stroke-width="0.6"/>
<rect x="140.4" y="466.4" width="4.8" height="4.8" rx="1.2" fill="#2fbf4a" stroke="#1f6a2d" stroke-width="0.6"/>
</g>
<path d="M357.5,45 H470 V124" fill="none" stroke="#161616" stroke-width="1.7"/>
<path d="M470,130 L465.6,117.5 L470,121.5 L474.4,117.5 Z" fill="#111"/>
<path d="M707.5,45 H596.4 V123" fill="none" stroke="#161616" stroke-width="1.7"/>
<path d="M596.4,129 L592.0,116.5 L596.4,120.5 L600.8,116.5 Z" fill="#111"/>
<path d="M135,550 V579.5 H322.5 V590" fill="none" stroke="#161616" stroke-width="1.7"/>
<path d="M322.5,596.5 L318.4,584.0 L322.5,588.5 L326.6,584.0 Z" fill="#111"/>
<path d="M265,550 V566.8 H413 V609" fill="none" stroke="#161616" stroke-width="1.7"/>
<path d="M413,615.5 L408.9,603.0 L413,607.5 L417.1,603.0 Z" fill="#111"/>
<path d="M650,554 V569.5 H505 V606" fill="none" stroke="#161616" stroke-width="1.7"/>
<path d="M505,612 L500.9,599.5 L505,604 L509.1,599.5 Z" fill="#111"/>
<path d="M824.4,552 V578 H612.5 V594" fill="none" stroke="#161616" stroke-width="1.7"/>
<path d="M612.5,600.5 L608.4,588.0 L612.5,592.5 L616.6,588.0 Z" fill="#111"/>
<path d="M1000.4,552 V585.3 H716.5 V593" fill="none" stroke="#161616" stroke-width="1.7"/>
<path d="M716.5,599.5 L712.4,587.0 L716.5,591.5 L720.6,587.0 Z" fill="#111"/>
<g>
<rect x="659" y="704" width="4.4" height="106" fill="#0b0b0b"/><rect x="783.6" y="704" width="4.4" height="106" fill="#0b0b0b"/>
<rect x="661" y="758" width="125" height="2.8" fill="#0b0b0b"/>
<rect x="643" y="809" width="37" height="8" fill="#0b0b0b"/><rect x="767" y="809" width="37.4" height="8" fill="#0b0b0b"/>
<polygon points="697.2,700.0 738.8,700.0 739.5,809.0 721.4,809.0 719.0,728.0 716.8,809.0 697.2,809.0" fill="#0a0a0a" />
<path d="M713.4,808 L713.4,817 L691,817 Q687,816.6 688.4,813 Q692,808.6 700,807.6 Z" fill="#0b0b0b"/>
<path d="M723.4,808 L723.4,817 L746,817 Q750,816.6 748.6,813 Q745,808.6 737,807.6 Z" fill="#0b0b0b"/>
<path d="M703.0,636.4 C701.8,634.0 696.0,636.1 693.0,639.4 C690.0,642.7 687.2,650.8 685.0,656.0 C682.8,661.2 680.1,666.2 680.0,670.6 C679.9,675.0 681.9,679.7 684.6,682.4 C687.3,685.1 692.3,686.0 696.0,687.0 C699.7,688.0 705.1,688.9 707.0,688.6 C708.9,688.3 709.1,686.8 707.6,685.0 C706.1,683.2 699.9,681.2 698.0,678.0 C696.1,674.8 695.7,670.0 696.0,666.0 C696.3,662.0 698.8,658.9 700.0,654.0 C701.2,649.1 704.2,638.8 703.0,636.4 Z" fill="#fff" stroke="#b0b0b0" stroke-width="0.6" stroke-linejoin="round" stroke-linecap="round" />
<path d="M734.6,636.0 C735.2,633.6 740.3,636.9 742.4,639.6 C744.5,642.3 745.5,647.6 747.0,652.0 C748.5,656.4 749.0,660.6 751.6,666.0 C754.2,671.4 759.4,680.9 762.8,684.4 C766.2,687.9 771.6,686.3 772.0,687.0 C772.4,687.7 767.7,688.6 765.0,688.6 C762.3,688.6 758.4,688.8 755.6,687.0 C752.8,685.2 750.4,681.1 748.0,678.0 C745.6,674.9 742.6,672.4 741.0,668.4 C739.4,664.4 739.7,659.4 738.6,654.0 C737.5,648.6 734.0,638.4 734.6,636.0 Z" fill="#fff" stroke="#b0b0b0" stroke-width="0.6" stroke-linejoin="round" stroke-linecap="round" />
<polygon points="710.4,634.0 726.0,634.0 726.0,689.0 711.8,689.0" fill="#fff" />
<path d="M702.6,636.2 C704.4,633.0 709.0,631.0 710.4,635.0 C711.8,639.0 711.0,651.4 711.2,660.0 C711.4,668.6 713.0,682.5 711.8,686.8 C710.6,691.1 706.4,687.1 704.2,685.6 C702.0,684.1 699.8,680.9 698.4,677.6 C697.0,674.3 695.4,669.9 695.6,666.0 C695.8,662.1 698.2,659.4 699.4,654.4 C700.6,649.4 700.8,639.4 702.6,636.2 Z" fill="#0a0a0a" />
<path d="M726.0,635.0 C727.5,631.0 732.7,632.8 734.8,636.0 C736.9,639.2 737.6,648.2 738.6,654.4 C739.6,660.6 740.7,667.3 741.0,673.0 C741.3,678.7 743.1,685.8 740.6,688.4 C738.1,691.0 728.4,693.1 726.0,688.4 C723.6,683.7 726.0,668.9 726.0,660.0 C726.0,651.1 724.5,639.0 726.0,635.0 Z" fill="#0a0a0a" />
<path d="M708.0,612.0 C709.7,609.5 714.6,609.0 718.0,609.0 C721.4,609.0 726.6,609.5 728.4,612.0 C730.2,614.5 729.2,620.8 728.6,624.0 C728.0,627.2 726.8,629.6 725.0,631.4 C723.2,633.2 720.3,635.0 718.0,635.0 C715.7,635.0 712.7,633.2 711.0,631.4 C709.3,629.6 708.3,627.2 707.8,624.0 C707.3,620.8 706.3,614.5 708.0,612.0 Z" fill="#fff" stroke="#2a2a2a" stroke-width="0.5" stroke-linejoin="round" stroke-linecap="round" />
<ellipse cx="706.8" cy="621" rx="1.5" ry="3" fill="#fff" stroke="#444" stroke-width="0.5"/><ellipse cx="729.6" cy="621" rx="1.5" ry="3" fill="#fff" stroke="#444" stroke-width="0.5"/>
<path d="M708.0,618.0 C708.3,617.7 708.8,622.4 709.6,624.0 C710.4,625.6 711.2,627.0 712.6,627.4 C714.0,627.8 716.2,626.2 718.0,626.2 C719.8,626.2 722.2,627.8 723.6,627.4 C725.0,627.0 725.8,625.6 726.6,624.0 C727.4,622.4 728.0,617.7 728.4,618.0 C728.8,618.3 729.3,623.6 728.8,626.0 C728.3,628.4 727.2,630.8 725.4,632.4 C723.6,634.0 720.6,635.6 718.2,635.6 C715.8,635.6 712.8,634.0 711.0,632.4 C709.2,630.8 708.1,628.4 707.6,626.0 C707.1,623.6 707.7,618.3 708.0,618.0 Z" fill="#0a0a0a" />
<path d="M715.4,630 Q718.2,628.6 721,630 Q718.2,631.4 715.4,630Z" fill="#fff"/>
<polygon points="704.6,613.6 706.4,606.4 710.0,602.6 713.4,600.4 715.6,597.8 718.0,600.0 721.0,598.6 722.6,601.0 727.2,602.8 730.6,610.6 729.6,618.0 727.6,613.4 722.0,610.4 717.0,613.6 712.6,611.0 709.4,614.6 708.0,619.6" fill="#0a0a0a" />
<rect x="660.4" y="689" width="144.6" height="16" fill="#47474a"/>
<rect x="668" y="697.6" width="130" height="7.6" fill="#070707"/>
<rect x="674" y="691.8" width="17" height="3.6" fill="#e6e6e6"/>
<path d="M425,700 V729" stroke="#222" stroke-width="0.9"/>
<g transform="translate(441,676.2) rotate(14)"><ellipse cx="0" cy="0" rx="10.6" ry="5" fill="#141414"/><path d="M-9.5,-1.6 Q0,-5.4 9.5,-1" fill="none" stroke="#555" stroke-width="0.7"/></g>
<path d="M573.8,766 V820.5 M586,764 V799 M573.8,796 L557.5,820 M573.8,796 L590,812 M586,784 L566,797.5 M586,786 L591,797" stroke="#111" stroke-width="1.1" fill="none"/>
<circle cx="573.8" cy="821.4" r="2" fill="#111"/>
<circle cx="557.4" cy="821" r="2" fill="#111"/>
<circle cx="566" cy="798.8" r="2" fill="#111"/>
<circle cx="586" cy="799.6" r="2" fill="#111"/>
<circle cx="549.8" cy="821.4" r="2" fill="#111"/>
<path d="M556,791.6 q5,-2.4 10,-0.6 l-1,2.6 h-9z" fill="#111"/>
<path d="M437,780 L441.5,793 M452,782 L458,808" stroke="#111" stroke-width="1"/>
<circle cx="441.8" cy="794" r="2" fill="#111"/>
<circle cx="446" cy="811.6" r="2" fill="#111"/>
<circle cx="458.4" cy="809" r="2" fill="#111"/>
<g transform="translate(421.6,728.4) rotate(15.3)"><rect x="0" y="0" width="43.9" height="44" fill="#0b0b0b"/><rect x="0" y="0" width="43.9" height="3.2" fill="#77777a"/><rect x="0" y="41" width="43.9" height="3" fill="#6a6a6d"/><path d="M14.5,8 L13,17 M16,26 L14.4,36" stroke="#d0d0d0" stroke-width="1.3"/><rect x="3" y="3.2" width="4.2" height="37.8" fill="#4a4a4d"/></g>
<polygon points="487.0,724.0 466.0,731.0 461.0,760.0 457.5,802.0 476.0,802.0 481.0,760.0 492.0,736.0" fill="#2b2325" />
<polygon points="525.0,724.0 545.5,731.0 551.0,760.0 556.5,802.0 539.0,802.0 533.0,760.0 520.0,736.0" fill="#2b2325" />
<path d="M477.6,802 L477.6,813.4 L447,813.4 Q443,812.9 444.5,809.4 Q450,805.5 465.6,802 Z" fill="#0a0a0a"/><path d="M461.6,807 l3.4,-3.6" stroke="#fff" stroke-width="1.1"/><path d="M464.20000000000005,807 l3.4,-3.6" stroke="#fff" stroke-width="1.1"/><path d="M466.8,807 l3.4,-3.6" stroke="#fff" stroke-width="1.1"/>
<path d="M536,802 L536,813.4 L566,813.4 Q570,812.9 568.5,809.4 Q563,805.5 548,802 Z" fill="#0a0a0a"/><path d="M552.0,807 l-3.4,-3.6" stroke="#fff" stroke-width="1.1"/><path d="M549.4,807 l-3.4,-3.6" stroke="#fff" stroke-width="1.1"/><path d="M546.8,807 l-3.4,-3.6" stroke="#fff" stroke-width="1.1"/>
<rect x="486.8" y="720.4" width="38.4" height="10.6" fill="#7f9d98"/>
<rect x="486.8" y="720.4" width="38.4" height="2.6" fill="#3e4a48"/>
<path d="M456.4,660.8 L484.6,668.4" stroke="#0b0b0b" stroke-width="3.2" stroke-linecap="round"/>
<path d="M454.8,625.0 C457.2,622.5 466.1,622.5 468.2,625.0 C470.3,627.5 467.6,636.1 467.4,640.0 C467.2,643.9 465.4,646.5 466.8,648.6 C468.2,650.7 472.8,651.2 476.0,652.4 C479.2,653.6 484.4,653.5 486.0,656.0 C487.6,658.5 488.1,666.1 485.4,667.4 C482.7,668.7 474.8,664.8 470.0,663.6 C465.2,662.4 459.2,661.5 456.4,660.0 C453.6,658.5 453.6,657.9 453.2,654.6 C452.8,651.3 453.5,644.9 453.8,640.0 C454.1,635.1 452.4,627.5 454.8,625.0 Z" fill="#fff" stroke="#2a2a2a" stroke-width="0.55" stroke-linejoin="round" stroke-linecap="round" />
<path d="M465.4,612.4 L495.4,581.6" stroke="#0b0b0b" stroke-width="1.9" stroke-linecap="round"/>
<path d="M455.0,614.0 C455.7,612.5 456.9,610.8 458.4,610.0 C459.9,609.2 462.4,608.7 464.0,609.0 C465.6,609.3 467.1,610.5 468.0,612.0 C468.9,613.5 469.4,615.9 469.4,618.0 C469.4,620.1 469.4,623.2 468.0,624.6 C466.6,626.0 463.1,626.5 461.0,626.4 C458.9,626.3 456.7,625.2 455.6,624.0 C454.5,622.8 454.5,620.7 454.4,619.0 C454.3,617.3 454.3,615.5 455.0,614.0 Z" fill="#fff" stroke="#2a2a2a" stroke-width="0.55" stroke-linejoin="round" stroke-linecap="round" />
<path d="M457.6,613.6 q1.6,2.6 0.6,5 M460.6,612 q1.4,3 0.4,5.6 M463.6,611.4 q1.4,2.6 0.6,5.4 M457.8,619.6 l3.4,-2" stroke="#2a2a2a" stroke-width="0.5" fill="none"/>
<path d="M529,669.6 Q545,676 556,686 Q566,680 576.5,665.4" stroke="#0b0b0b" stroke-width="2.8" fill="none" stroke-linecap="round"/>
<path d="M528.6,657.4 C530.4,656.6 536.2,661.6 540.0,664.0 C543.8,666.4 547.9,671.3 551.4,671.6 C554.9,671.9 557.8,667.9 561.0,666.0 C564.2,664.1 567.8,660.6 570.4,660.4 C573.0,660.2 577.1,662.2 576.4,665.0 C575.7,667.8 569.4,673.6 566.0,677.0 C562.6,680.4 560.0,685.5 556.0,685.4 C552.0,685.3 546.5,679.1 542.0,676.4 C537.5,673.7 531.2,672.2 529.0,669.0 C526.8,665.8 526.8,658.2 528.6,657.4 Z" fill="#fff" stroke="#2a2a2a" stroke-width="0.55" stroke-linejoin="round" stroke-linecap="round" />
<path d="M576.4,609.6 L578.4,649" stroke="#0b0b0b" stroke-width="1.7" stroke-linecap="round"/>
<path d="M570.0,654.0 C570.7,652.5 572.0,650.9 573.4,650.0 C574.8,649.1 577.2,648.4 578.6,648.6 C580.0,648.8 581.3,649.9 581.6,651.4 C581.9,652.9 581.1,655.5 580.4,657.4 C579.7,659.3 578.8,661.6 577.4,662.6 C576.0,663.6 573.3,664.2 572.0,663.6 C570.7,663.0 569.7,660.6 569.4,659.0 C569.1,657.4 569.3,655.5 570.0,654.0 Z" fill="#fff" stroke="#2a2a2a" stroke-width="0.55" stroke-linejoin="round" stroke-linecap="round" />
<polygon points="499.0,656.0 515.0,656.0 516.0,712.0 498.6,712.0" fill="#fff" />
<polygon points="501.4,650.0 512.8,650.0 513.0,660.0 501.0,660.0" fill="#fff" />
<path d="M484.6,656.4 C485.9,653.3 489.6,655.5 492.0,655.4 C494.4,655.3 497.8,652.6 499.2,656.0 C500.6,659.4 500.4,669.3 500.6,676.0 C500.8,682.7 500.7,689.8 500.4,696.0 C500.1,702.2 500.8,710.2 498.6,713.0 C496.4,715.8 489.6,715.8 487.4,713.0 C485.2,710.2 485.9,702.5 485.4,696.0 C484.9,689.5 484.3,680.6 484.2,674.0 C484.1,667.4 483.3,659.5 484.6,656.4 Z" fill="#0a0a0a" />
<path d="M514.8,656.0 C516.2,652.6 519.7,655.3 522.0,655.4 C524.3,655.5 527.4,653.3 528.8,656.4 C530.2,659.5 530.3,667.4 530.6,674.0 C530.9,680.6 531.1,689.5 530.6,696.0 C530.1,702.5 530.2,710.2 527.6,713.0 C525.0,715.8 517.5,715.8 515.2,713.0 C512.9,710.2 514.3,702.2 514.0,696.0 C513.7,689.8 513.5,682.7 513.6,676.0 C513.7,669.3 513.4,659.4 514.8,656.0 Z" fill="#0a0a0a" />
<path d="M496.4,628.0 C498.2,625.5 503.3,625.0 507.0,625.0 C510.7,625.0 516.5,625.5 518.4,628.0 C520.3,630.5 519.0,636.5 518.6,640.0 C518.2,643.5 517.9,646.4 516.0,649.0 C514.1,651.6 510.2,655.6 507.4,655.6 C504.6,655.6 500.8,651.6 499.0,649.0 C497.2,646.4 496.8,643.5 496.4,640.0 C496.0,636.5 494.6,630.5 496.4,628.0 Z" fill="#fff" stroke="#2a2a2a" stroke-width="0.5" stroke-linejoin="round" stroke-linecap="round" />
<ellipse cx="495.2" cy="640.6" rx="1.7" ry="3.2" fill="#fff" stroke="#2a2a2a" stroke-width="0.5"/><ellipse cx="519.8" cy="640.6" rx="1.7" ry="3.2" fill="#fff" stroke="#2a2a2a" stroke-width="0.5"/>
<polygon points="492.8,628.0 495.4,622.4 499.6,620.4 498.4,616.8 503.6,619.4 507.4,616.6 509.4,619.4 513.6,617.4 513.4,620.8 518.0,623.4 520.6,629.0 519.8,637.0 517.6,641.4 516.4,633.0 513.4,628.6 507.0,630.0 501.0,628.4 498.0,632.6 496.6,641.0 494.0,636.0" fill="#0a0a0a" />
<path d="M506.4,706 V732 M499,709.6 L506.4,713 L513.6,709.6" stroke="#111" stroke-width="1.2" fill="none"/>
<g transform="translate(469.2,712.4) rotate(27.6)"><ellipse cx="0" cy="0" rx="22.2" ry="8.4" fill="#ececec" stroke="#111" stroke-width="1"/></g>
<polygon points="462.2,675.4 502.4,694.8 489.0,723.0 449.4,702.0" fill="#0b0b0b" />
<polygon points="468.6,678.4 473.2,680.6 460.6,707.8 456.0,705.4" fill="#6a6a6d" />
<path d="M461.6,676.6 L502,696" stroke="#77777a" stroke-width="2.6"/>
<path d="M484,693 L480.6,700 M478,706.4 L475,713" stroke="#d8d8d8" stroke-width="1.2"/>
<g transform="translate(545,710.4) rotate(-32)"><ellipse cx="0" cy="0" rx="20.4" ry="8" fill="#ececec" stroke="#111" stroke-width="1"/></g>
<polygon points="510.2,694.8 549.6,675.4 561.8,699.0 527.2,721.6" fill="#0b0b0b" />
<polygon points="514.6,693.0 519.4,690.6 532.8,717.8 528.4,720.6" fill="#6a6a6d" />
<path d="M510.6,696 L550,676.6" stroke="#77777a" stroke-width="2.6"/>
<path d="M529.4,690.6 L532.4,697 M536,704.4 L539,710.6" stroke="#d8d8d8" stroke-width="1.2"/>
<circle cx="506.3" cy="773.3" r="43.6" fill="#0b0b0b"/>
<circle cx="506.3" cy="773.3" r="41" fill="#f1f1f1"/>
<circle cx="506.3" cy="773.3" r="22.3" fill="#0b0b0b"/>
<circle cx="466.5" cy="818.6" r="2" fill="#111"/>
<circle cx="491" cy="821.6" r="2" fill="#111"/>
<circle cx="506.3" cy="822.4" r="2" fill="#111"/>
<circle cx="521.6" cy="821.6" r="2" fill="#111"/>
<circle cx="546" cy="818.6" r="2" fill="#111"/>
<path d="M470,812 L466.5,818.6 M493.4,816 L491,821.6 M506.3,817 V822.4 M519.4,816 L521.6,821.6 M543,812 L546,818.6" stroke="#111" stroke-width="1.4"/>
<path d="M462,816 L450,822 M551,816 L548,822" stroke="#111" stroke-width="1.8" stroke-linecap="round"/>
<path d="M352.0,664.0 C353.7,660.7 357.7,659.3 360.0,660.0 C362.3,660.7 364.7,664.7 366.0,668.0 C367.3,671.3 367.0,676.3 368.0,680.0 C369.0,683.7 371.7,686.7 372.0,690.0 C372.3,693.3 371.7,696.3 370.0,700.0 C368.3,703.7 364.5,708.3 362.0,712.0 C359.5,715.7 357.2,720.2 355.0,722.0 C352.8,723.8 350.0,726.7 349.0,723.0 C348.0,719.3 348.8,707.2 349.0,700.0 C349.2,692.8 349.5,686.0 350.0,680.0 C350.5,674.0 350.3,667.3 352.0,664.0 Z" fill="#ececec" stroke="#bdbdbd" stroke-width="0.6" stroke-linejoin="round" stroke-linecap="round" />
<polygon points="318.0,700.0 347.6,700.0 346.6,724.0 357.5,811.0 338.7,813.7 338.0,762.0 324.5,725.0 313.8,765.3 313.0,813.7 293.6,811.0 304.4,720.0 306.0,700.0" fill="#0a0a0a" />
<path d="M311.5,811.5 L311.5,823.2 L284.5,823.2 Q280.5,822.7 282.0,819.2 Q287.5,815.0 299.5,811.5 Z" fill="#0a0a0a"/><path d="M295.5,816.5 l3.4,-3.6" stroke="#fff" stroke-width="1.1"/><path d="M298.1,816.5 l3.4,-3.6" stroke="#fff" stroke-width="1.1"/><path d="M300.7,816.5 l3.4,-3.6" stroke="#fff" stroke-width="1.1"/>
<path d="M339.5,811.5 L339.5,823.2 L365.5,823.2 Q369.5,822.7 368.0,819.2 Q362.5,815.0 351.5,811.5 Z" fill="#0a0a0a"/><path d="M355.5,816.5 l-3.4,-3.6" stroke="#fff" stroke-width="1.1"/><path d="M352.9,816.5 l-3.4,-3.6" stroke="#fff" stroke-width="1.1"/><path d="M350.3,816.5 l-3.4,-3.6" stroke="#fff" stroke-width="1.1"/>
<polygon points="303.0,640.0 293.6,646.0 284.0,654.0 276.0,659.5 274.6,663.0 277.0,668.0 281.0,676.0 288.5,686.0 296.0,690.0 304.0,700.0 347.6,704.0 347.4,690.0 349.0,679.5 353.0,684.0 358.0,684.5 362.5,679.0 365.0,666.0 360.0,655.0 354.0,645.5 346.0,639.5 333.0,634.0 316.0,634.0" fill="#0a0a0a" />
<polygon points="289.2,664.6 302.4,658.4 303.2,672.0 297.0,678.5" fill="#fff" />
<polygon points="316.6,630.0 332.4,630.0 333.4,640.0 324.6,663.5 315.6,640.0" fill="#fff" />
<polygon points="315.8,633.0 303.0,640.2 306.5,645.0 323.9,663.0" fill="#3d3537" />
<polygon points="333.3,633.4 346.0,639.6 342.5,645.0 325.2,663.6" fill="#3d3537" />
<circle cx="307.5" cy="642.4" r="0.75" fill="#fff"/>
<circle cx="341.6" cy="642.4" r="0.75" fill="#fff"/>
<circle cx="310.4" cy="645.7" r="0.75" fill="#fff"/>
<circle cx="338.7" cy="645.7" r="0.75" fill="#fff"/>
<circle cx="313.3" cy="649.0" r="0.75" fill="#fff"/>
<circle cx="335.8" cy="649.0" r="0.75" fill="#fff"/>
<circle cx="316.2" cy="652.3" r="0.75" fill="#fff"/>
<circle cx="332.9" cy="652.3" r="0.75" fill="#fff"/>
<circle cx="319.1" cy="655.6" r="0.75" fill="#fff"/>
<circle cx="330.0" cy="655.6" r="0.75" fill="#fff"/>
<circle cx="322.0" cy="658.9" r="0.75" fill="#fff"/>
<circle cx="327.1" cy="658.9" r="0.75" fill="#fff"/>
<rect x="328.4" y="701.6" width="9.4" height="5" fill="#f4f4f4"/><rect x="338.8" y="701.6" width="2.6" height="5" fill="#f4f4f4"/><rect x="319" y="702.2" width="2.8" height="4.6" fill="#f4f4f4"/>
<polygon points="314.5,679.5 372.6,623.2 376.4,627.2 318.5,683.8" fill="#a9b9b4" stroke="#222" stroke-width="0.6" stroke-linejoin="round" />
<path d="M319.2,675.1 l3.8,4" stroke="#4a4a4a" stroke-width="0.6"/>
<path d="M323.9,670.6 l3.8,4" stroke="#4a4a4a" stroke-width="0.6"/>
<path d="M328.5,666.1 l3.8,4" stroke="#4a4a4a" stroke-width="0.6"/>
<path d="M333.2,661.6 l3.8,4" stroke="#4a4a4a" stroke-width="0.6"/>
<path d="M337.8,657.0 l3.8,4" stroke="#4a4a4a" stroke-width="0.6"/>
<path d="M342.4,652.5 l3.8,4" stroke="#4a4a4a" stroke-width="0.6"/>
<path d="M347.1,648.0 l3.8,4" stroke="#4a4a4a" stroke-width="0.6"/>
<path d="M351.7,643.5 l3.8,4" stroke="#4a4a4a" stroke-width="0.6"/>
<path d="M356.4,639.0 l3.8,4" stroke="#4a4a4a" stroke-width="0.6"/>
<path d="M361.0,634.5 l3.8,4" stroke="#4a4a4a" stroke-width="0.6"/>
<path d="M365.6,630.0 l3.8,4" stroke="#4a4a4a" stroke-width="0.6"/>
<polygon points="372.8,623.0 384.6,613.4 386.5,613.2 392.2,619.4 392.0,621.4 379.6,631.2" fill="#0a0a0a" />
<path d="M376.5,624.5 L388,615.6 M378.6,627.2 L390.4,618" stroke="#cfcfcf" stroke-width="0.6"/>
<circle cx="378" cy="619" r="1" fill="#fff" stroke="#777" stroke-width="0.4"/>
<circle cx="381.5" cy="616" r="1" fill="#fff" stroke="#777" stroke-width="0.4"/>
<circle cx="385" cy="613" r="1" fill="#fff" stroke="#777" stroke-width="0.4"/>
<circle cx="384.5" cy="629.5" r="1" fill="#fff" stroke="#777" stroke-width="0.4"/>
<circle cx="388" cy="626.5" r="1" fill="#fff" stroke="#777" stroke-width="0.4"/>
<circle cx="391.5" cy="623.5" r="1" fill="#fff" stroke="#777" stroke-width="0.4"/>
<path d="M304.4,671.2 C306.3,669.7 310.7,666.5 313.8,665.8 C316.9,665.1 320.9,665.9 323.2,667.0 C325.5,668.1 327.1,670.2 327.6,672.4 C328.1,674.6 326.4,677.8 326.2,680.0 C326.0,682.2 325.4,683.6 326.5,685.5 C327.6,687.4 332.5,689.3 332.6,691.2 C332.7,693.1 329.4,694.3 327.2,696.8 C325.0,699.3 321.0,703.1 319.4,706.0 C317.8,708.9 319.2,711.5 317.8,714.2 C316.4,716.9 314.1,720.3 311.2,722.2 C308.3,724.1 304.9,725.6 300.4,725.4 C295.9,725.2 288.6,723.6 284.4,720.8 C280.2,718.0 276.9,712.6 275.0,708.8 C273.1,705.0 272.6,701.6 273.0,698.0 C273.4,694.4 275.3,690.1 277.6,687.4 C279.9,684.7 283.7,683.2 287.0,681.8 C290.3,680.4 295.0,680.1 297.6,679.0 C300.2,677.9 301.5,676.3 302.6,675.0 C303.7,673.7 302.5,672.7 304.4,671.2 Z" fill="#0a0a0a" stroke="#fff" stroke-width="1.0" stroke-linejoin="round" stroke-linecap="round" />
<g transform="translate(316.2,683.4) rotate(-44)"><rect x="-6" y="-3.4" width="12" height="6.8" rx="0.8" fill="#0a0a0a" stroke="#f4f4f4" stroke-width="0.9"/></g>
<g transform="translate(307,695.6) rotate(-44)"><rect x="-5.4" y="-3" width="10.8" height="6" rx="0.8" fill="#0a0a0a" stroke="#f4f4f4" stroke-width="0.9"/></g>
<path d="M303,700 L320,683 M304.6,701.4 L321.4,684.6 M301.6,698.6 L318.6,681.6" stroke="#d8d8d8" stroke-width="0.45"/>
<circle cx="278.2" cy="701.3" r="1.8" fill="#d9d9d9" stroke="#555" stroke-width="0.4"/><circle cx="278.2" cy="701.3" r="0.6" fill="#666"/>
<circle cx="300.3" cy="712.1" r="1.8" fill="#d9d9d9" stroke="#555" stroke-width="0.4"/><circle cx="300.3" cy="712.1" r="0.6" fill="#666"/>
<circle cx="308.4" cy="714.8" r="1.8" fill="#d9d9d9" stroke="#555" stroke-width="0.4"/><circle cx="308.4" cy="714.8" r="0.6" fill="#666"/>
<circle cx="292.3" cy="718.1" r="1.8" fill="#d9d9d9" stroke="#555" stroke-width="0.4"/><circle cx="292.3" cy="718.1" r="0.6" fill="#666"/>
<circle cx="299.7" cy="720" r="1.8" fill="#d9d9d9" stroke="#555" stroke-width="0.4"/><circle cx="299.7" cy="720" r="0.6" fill="#666"/>
<circle cx="314.4" cy="670.8" r="1.8" fill="#d9d9d9" stroke="#555" stroke-width="0.4"/><circle cx="314.4" cy="670.8" r="0.6" fill="#666"/>
<path d="M289.5,686.5 C290.8,685.1 294.0,683.2 296.0,683.5 C298.0,683.8 300.2,686.2 301.5,688.0 C302.8,689.8 303.5,691.7 304.0,694.0 C304.5,696.3 304.9,700.2 304.5,702.0 C304.1,703.8 302.4,704.8 301.5,704.5 C300.6,704.2 299.6,699.8 299.0,700.0 C298.4,700.2 298.6,704.9 298.0,706.0 C297.4,707.1 296.0,707.3 295.4,706.5 C294.8,705.7 294.9,701.2 294.4,701.0 C293.9,700.8 293.2,704.8 292.5,705.4 C291.8,706.0 290.6,706.0 290.2,704.6 C289.8,703.2 290.4,699.1 290.0,697.0 C289.6,694.9 288.1,693.8 288.0,692.0 C287.9,690.2 288.2,687.9 289.5,686.5 Z" fill="#fff" stroke="#2a2a2a" stroke-width="0.5" stroke-linejoin="round" stroke-linecap="round" />
<path d="M313.0,607.0 C314.7,604.2 319.6,605.0 323.0,605.0 C326.4,605.0 331.6,604.2 333.4,607.0 C335.2,609.8 334.3,618.0 334.0,622.0 C333.7,626.0 333.3,628.7 331.5,631.0 C329.7,633.3 326.1,636.0 323.4,636.0 C320.7,636.0 317.0,633.3 315.2,631.0 C313.4,628.7 313.2,626.0 312.8,622.0 C312.4,618.0 311.3,609.8 313.0,607.0 Z" fill="#fff" stroke="#2a2a2a" stroke-width="0.5" stroke-linejoin="round" stroke-linecap="round" />
<ellipse cx="311.6" cy="619" rx="1.6" ry="3" fill="#fff" stroke="#2a2a2a" stroke-width="0.5"/><ellipse cx="335.4" cy="619" rx="1.6" ry="3" fill="#fff" stroke="#2a2a2a" stroke-width="0.5"/>
<path d="M297.7,601.2 C296.6,600.1 299.6,599.7 300.5,598.5 C301.4,597.3 302.1,594.4 303.0,594.2 C303.9,594.1 303.8,596.9 305.6,597.6 C307.4,598.3 310.7,598.7 313.6,598.6 C316.5,598.5 320.1,596.9 323.0,597.0 C325.9,597.1 328.6,597.4 331.0,599.0 C333.4,600.6 336.3,603.4 337.4,606.6 C338.5,609.8 337.9,614.4 337.4,618.0 C336.9,621.6 335.3,628.1 334.6,628.4 C333.9,628.7 333.2,623.0 333.0,620.0 C332.8,617.0 335.0,612.3 333.4,610.4 C331.8,608.5 326.5,608.5 323.4,608.6 C320.3,608.7 316.2,609.1 314.6,611.0 C313.0,612.9 314.2,617.4 314.0,620.0 C313.8,622.6 313.8,626.7 313.2,626.4 C312.6,626.1 310.9,620.8 310.6,618.0 C310.3,615.2 312.0,611.7 311.4,609.6 C310.8,607.5 309.3,606.6 307.0,605.2 C304.7,603.8 298.8,602.3 297.7,601.2 Z" fill="#0a0a0a" />
<path d="M314,614.2 H332.8 L332.6,617 Q331.6,621 328.2,621 Q325,621 324.3,617 L323.6,615.6 L323,617 Q322.2,621 318.8,621 Q315,621 314.3,617 Z" fill="#0a0a0a"/>
<polygon points="372.5,844.0 379.5,846.0 378.5,864.0 373.5,864.0" fill="#fff" stroke="#2a2a2a" stroke-width="0.5" stroke-linejoin="round" />
<path d="M371.0,862.0 C371.4,860.1 371.7,859.1 373.0,858.6 C374.3,858.1 377.3,857.8 379.0,859.0 C380.7,860.2 382.3,863.7 383.0,866.0 C383.7,868.3 384.1,871.4 383.4,873.0 C382.7,874.6 380.8,875.1 379.0,875.4 C377.2,875.7 374.0,875.5 372.6,874.6 C371.2,873.7 370.9,872.1 370.6,870.0 C370.3,867.9 370.6,863.9 371.0,862.0 Z" fill="#0a0a0a" />
<polygon points="436.5,846.0 443.5,843.0 449.5,861.0 444.0,864.5" fill="#fff" stroke="#2a2a2a" stroke-width="0.5" stroke-linejoin="round" />
<path d="M439.2,856.0 C439.8,854.0 441.5,861.6 443.0,862.4 C444.5,863.2 446.9,860.4 448.4,861.0 C449.9,861.6 451.0,863.9 452.0,866.0 C453.0,868.1 454.6,872.1 454.4,873.6 C454.2,875.1 452.2,875.4 451.0,874.8 C449.8,874.2 448.6,871.0 447.0,870.0 C445.4,869.0 442.6,867.8 441.6,868.6 C440.6,869.4 441.3,873.6 441.0,874.6 C440.7,875.6 439.9,877.7 439.6,874.6 C439.3,871.5 438.6,858.0 439.2,856.0 Z" fill="#0a0a0a" />
<path d="M393.8,664.4 C392.8,659.7 385.1,657.4 381.0,654.0 C376.9,650.6 371.8,647.7 369.0,644.0 C366.2,640.3 365.7,636.4 364.5,632.0 C363.3,627.6 364.0,619.6 361.6,617.4 C359.2,615.2 351.7,616.0 350.2,618.8 C348.7,621.6 351.6,628.8 352.5,634.0 C353.4,639.2 354.4,645.6 355.5,650.0 C356.6,654.4 356.1,656.9 358.8,660.4 C361.6,663.9 367.3,667.4 372.0,671.0 C376.7,674.6 383.4,683.1 387.0,682.0 C390.6,680.9 394.8,669.1 393.8,664.4 Z" fill="#fff" stroke="#2a2a2a" stroke-width="0.55" stroke-linejoin="round" stroke-linecap="round" />
<path d="M348.4,612.0 C348.5,610.7 348.7,609.5 349.4,608.8 C350.1,608.1 351.6,607.9 352.6,607.8 C353.6,607.7 354.9,609.6 355.4,608.0 C355.9,606.4 355.2,600.0 355.6,598.0 C356.0,596.0 356.9,595.8 357.6,595.8 C358.3,595.8 359.4,595.9 359.8,598.0 C360.2,600.1 359.7,606.4 360.0,608.6 C360.3,610.8 361.5,609.7 361.8,611.0 C362.1,612.3 362.4,615.0 361.8,616.4 C361.2,617.8 360.1,619.1 358.4,619.6 C356.7,620.1 353.2,619.9 351.6,619.4 C350.0,618.9 349.1,617.8 348.6,616.6 C348.1,615.4 348.3,613.3 348.4,612.0 Z" fill="#fff" stroke="#2a2a2a" stroke-width="0.55" stroke-linejoin="round" stroke-linecap="round" />
<path d="M350.6,608.8 V613.6 M353,608.2 V613.8 M355.4,608.4 V613.6 M349,614 H355.6 M357,612.6 q2.6,0.4 3.4,3" stroke="#2a2a2a" stroke-width="0.45" fill="none"/>
<path d="M423.6,667.4 C424.8,665.9 426.4,667.8 428.6,670.4 C430.8,673.0 434.3,678.8 437.0,683.0 C439.7,687.2 442.7,691.8 445.0,695.6 C447.3,699.4 450.2,703.4 451.0,706.0 C451.8,708.6 450.8,710.4 449.6,711.0 C448.4,711.6 445.9,711.6 443.6,709.6 C441.3,707.6 438.6,702.5 436.0,699.0 C433.4,695.5 430.4,691.8 428.0,688.6 C425.6,685.4 422.3,683.1 421.6,679.6 C420.9,676.1 422.4,668.9 423.6,667.4 Z" fill="#fff" stroke="#2a2a2a" stroke-width="0.55" stroke-linejoin="round" stroke-linecap="round" />
<path d="M417.6,687.6 C418.8,686.9 420.4,687.3 423.0,688.2 C425.6,689.1 429.1,691.0 433.0,693.2 C436.9,695.4 443.4,699.2 446.4,701.4 C449.4,703.6 450.3,704.9 451.0,706.6 C451.7,708.3 451.1,710.5 450.4,711.6 C449.7,712.7 448.7,713.7 446.6,713.4 C444.5,713.1 441.0,711.3 438.0,709.6 C435.0,707.9 431.7,705.1 428.6,703.0 C425.5,700.9 421.8,699.0 419.6,697.2 C417.4,695.4 415.9,694.0 415.6,692.4 C415.3,690.8 416.4,688.3 417.6,687.6 Z" fill="#fff" stroke="#2a2a2a" stroke-width="0.55" stroke-linejoin="round" stroke-linecap="round" />
<path d="M391.2,667.6 C393.1,663.6 398.1,664.1 399.4,666.0 C400.7,667.9 398.8,675.2 399.2,679.0 C399.6,682.8 400.7,686.7 402.0,689.0 C403.3,691.3 405.4,692.8 407.2,693.0 C409.0,693.2 411.5,692.2 412.8,690.0 C414.1,687.8 414.7,683.8 415.2,680.0 C415.7,676.2 414.5,669.5 416.0,667.5 C417.5,665.5 422.5,664.2 424.2,668.0 C425.9,671.8 426.1,683.8 426.2,690.0 C426.2,696.2 425.7,700.1 424.5,705.4 C423.3,710.7 419.8,717.1 419.0,722.0 C418.2,726.9 418.5,730.0 419.5,735.0 C420.5,740.0 423.2,746.0 425.0,752.0 C426.8,758.0 427.5,761.2 430.0,770.7 C432.5,780.2 437.3,797.2 439.9,809.0 C442.5,820.8 447.9,835.1 445.8,841.7 C443.7,848.3 433.5,847.1 427.0,848.6 C420.5,850.1 413.8,850.8 407.0,851.0 C400.2,851.2 391.9,850.5 386.0,849.6 C380.1,848.7 374.5,849.8 371.6,845.6 C368.7,841.4 369.2,833.7 368.6,824.4 C368.0,815.1 367.8,800.7 367.8,790.0 C367.8,779.3 368.3,767.1 368.8,760.0 C369.3,752.9 369.3,752.6 371.0,747.6 C372.7,742.6 376.1,735.3 379.0,730.0 C381.9,724.7 386.8,720.0 388.6,716.0 C390.4,712.0 390.1,710.3 390.0,706.0 C389.9,701.7 387.8,696.4 388.0,690.0 C388.2,683.6 389.3,671.6 391.2,667.6 Z" fill="#0a0a0a" />
<path d="M400.4,644.0 C401.5,640.9 404.7,641.3 407.0,641.6 C409.3,641.9 411.7,644.1 414.0,646.0 C416.3,647.9 419.9,650.5 421.0,653.0 C422.1,655.5 421.3,658.4 420.6,661.0 C419.9,663.6 417.9,666.8 417.0,668.6 C416.1,670.4 415.7,670.1 415.4,672.0 C415.1,673.9 415.8,677.0 415.4,680.0 C415.0,683.0 414.2,687.8 412.8,690.0 C411.4,692.2 409.0,693.2 407.2,693.0 C405.4,692.8 403.3,691.3 402.0,689.0 C400.7,686.7 399.6,682.5 399.2,679.0 C398.8,675.5 399.2,671.2 399.4,668.0 C399.6,664.8 400.4,664.0 400.6,660.0 C400.8,656.0 399.3,647.1 400.4,644.0 Z" fill="#fff" />
<path d="M412.6,630.0 C409.6,629.8 406.4,631.0 404.0,632.4 C401.6,633.8 399.5,636.3 398.0,638.6 C396.5,640.9 395.7,642.8 395.0,646.0 C394.3,649.2 394.1,654.2 393.8,657.6 C393.5,661.0 392.0,665.0 393.0,666.4 C394.0,667.8 398.3,667.9 399.6,666.2 C400.9,664.5 400.7,659.3 400.8,656.0 C400.9,652.7 399.6,648.7 400.0,646.4 C400.4,644.1 401.9,642.6 403.2,642.4 C404.5,642.2 406.4,643.7 408.0,645.0 C409.6,646.3 410.9,648.5 413.0,650.0 C415.1,651.5 418.7,652.7 420.6,654.0 C422.5,655.3 423.6,658.3 424.6,658.0 C425.6,657.7 426.1,654.8 426.4,652.0 C426.7,649.2 426.9,644.6 426.2,641.5 C425.5,638.4 424.3,635.5 422.0,633.6 C419.7,631.7 415.6,630.2 412.6,630.0 Z" fill="#0a0a0a" />
<path d="M421.4,680 L378.2,862.6" stroke="#2a2a2a" stroke-width="4" stroke-linecap="round"/>
<path d="M421.4,680 L378.2,862.6" stroke="#ffffff" stroke-width="2.8" stroke-linecap="round"/>
<path d="M373,861 L381.6,863 L380.6,869 L372,867 Z" fill="#fff" stroke="#2a2a2a" stroke-width="0.5"/>
<g transform="translate(376,869) rotate(13.8)"><rect x="-22.2" y="-2.2" width="44.4" height="4.6" rx="1.4" fill="#fff" stroke="#2a2a2a" stroke-width="0.55"/></g>
<path d="M414.0,688.0 C414.8,686.8 416.6,685.9 418.0,686.0 C419.4,686.1 421.7,687.1 422.6,688.6 C423.5,690.1 423.8,693.3 423.4,695.0 C423.0,696.7 421.7,698.6 420.4,699.0 C419.1,699.4 416.6,698.6 415.4,697.6 C414.2,696.6 413.6,694.6 413.4,693.0 C413.2,691.4 413.2,689.2 414.0,688.0 Z" fill="#fff" stroke="#2a2a2a" stroke-width="0.55" stroke-linejoin="round" stroke-linecap="round" />
<g transform="translate(423.4,665.4) rotate(9)">
<rect x="-8.6" y="-11.4" width="17.2" height="22.8" rx="6.4" fill="#e4e4e4" stroke="#111" stroke-width="1.1"/>
<path d="M-7.6,-8.4 H7.6" stroke="#111" stroke-width="1.25"/>
<path d="M-7.6,-5.6 H7.6" stroke="#111" stroke-width="1.25"/>
<path d="M-7.6,-2.8 H7.6" stroke="#111" stroke-width="1.25"/>
<path d="M-7.6,-0.0 H7.6" stroke="#111" stroke-width="1.25"/>
<path d="M-7.6,2.8 H7.6" stroke="#111" stroke-width="1.25"/>
<path d="M-7.6,5.6 H7.6" stroke="#111" stroke-width="1.25"/>
<path d="M-7.6,8.4 H7.6" stroke="#111" stroke-width="1.25"/>
<path d="M-2.8,-11 V11 M2.8,-11 V11" stroke="#e4e4e4" stroke-width="0.9"/>
<rect x="-2.4" y="11.2" width="4.8" height="4.2" fill="#222"/>
</g>
<polygon points="586.0,735.0 640.0,735.0 641.5,861.5 620.0,871.5 614.8,759.0 603.7,861.5 586.7,861.5 589.6,762.0" fill="#0a0a0a" />
<path d="M603.8,861 V872.6 H583 Q581.4,867 586,863 Q590,861 596,861 Z" fill="#3d3638"/>
<path d="M619,861 V872.6 H653.6 Q654.6,866 648,862.6 Q644,861 640,861 Z" fill="#0a0a0a"/>
<polygon points="594.6,651.0 578.8,656.8 573.2,667.8 570.0,680.0 567.8,693.8 568.6,712.0 586.0,740.0 640.0,740.0 641.6,709.0 660.0,713.6 673.0,720.4 678.0,717.0 669.6,706.6 651.2,688.0 646.6,667.8 641.0,654.8 630.8,651.0 612.6,648.0" fill="#0a0a0a" />
<polygon points="603.8,644.0 621.6,644.0 622.0,648.0 612.7,677.2 603.4,648.0" fill="#fff" />
<polygon points="604.0,646.4 594.6,651.0 601.0,662.0 598.8,664.0 612.3,677.0" fill="#4d4648" />
<polygon points="621.5,646.4 630.8,651.0 624.4,662.0 626.6,664.0 613.0,677.0" fill="#4d4648" />
<path d="M605,649.6 Q612.7,656 620.4,649.6" fill="none" stroke="#333" stroke-width="0.7"/>
<circle cx="612.7" cy="657.4" r="2.5" fill="#fff" stroke="#222" stroke-width="0.8"/><path d="M612.7,655 V659.8 M612.7,657.4 L611,659.2 M612.7,657.4 L614.4,659.2" stroke="#222" stroke-width="0.6"/>
<polygon points="632.6,652.6 638.0,654.2 637.4,709.0 631.6,708.6" fill="#4d4648" />
<ellipse cx="612.7" cy="623.4" rx="22.8" ry="23.4" fill="#0a0a0a"/>
<path d="M598.0,640.0 C597.8,642.9 601.5,645.9 604.0,647.4 C606.5,648.9 609.8,649.2 612.7,649.2 C615.6,649.2 619.0,648.9 621.4,647.4 C623.8,645.9 627.6,642.9 627.4,640.0 C627.2,637.1 623.7,631.7 620.0,630.0 C616.3,628.3 608.7,628.3 605.0,630.0 C601.3,631.7 598.2,637.1 598.0,640.0 Z" fill="#0a0a0a" />
<path d="M601.2,630.0 C602.3,628.9 604.9,629.0 607.0,628.2 C609.1,627.4 611.8,626.2 614.0,625.2 C616.2,624.2 618.1,623.2 620.0,622.4 C621.9,621.6 623.6,620.2 625.2,620.4 C626.8,620.6 628.5,622.1 629.4,623.6 C630.3,625.1 630.6,627.6 630.6,629.6 C630.6,631.6 630.6,634.4 629.6,635.6 C628.6,636.8 625.7,636.7 624.4,636.6 C623.1,636.5 622.8,635.7 621.6,635.2 C620.4,634.7 618.9,633.8 617.4,633.6 C615.9,633.4 614.0,634.2 612.4,634.2 C610.8,634.2 609.1,633.4 607.6,633.8 C606.1,634.2 604.6,636.3 603.4,636.4 C602.2,636.5 600.8,635.7 600.4,634.6 C600.0,633.5 600.1,631.1 601.2,630.0 Z" fill="#fff" />
<ellipse cx="596.2" cy="631.6" rx="1.9" ry="4.2" fill="#fff"/><ellipse cx="630.2" cy="630" rx="1.6" ry="4" fill="#fff"/>
<path d="M608.6,639.4 Q612.8,637.2 617,639.4 Q612.8,641.4 608.6,639.4 Z" fill="#fff"/>
<path d="M630.6,708.6 C631.6,711.3 632.3,715.3 632.8,719.6 C633.3,723.9 634.0,730.4 633.6,734.4 C633.2,738.4 632.6,741.3 630.6,743.8 C628.6,746.3 625.3,748.0 621.6,749.2 C617.9,750.4 612.6,750.3 608.6,751.2 C604.6,752.1 601.4,753.0 597.4,754.8 C593.4,756.6 589.0,760.7 584.4,762.2 C579.8,763.7 574.2,764.9 569.6,764.0 C565.0,763.1 560.0,760.5 556.8,756.8 C553.6,753.1 551.4,747.3 550.2,742.0 C549.0,736.7 548.8,730.5 549.4,725.2 C550.0,719.9 551.2,714.4 554.0,710.4 C556.8,706.4 561.8,702.9 566.0,701.2 C570.2,699.5 575.0,699.7 579.0,700.2 C583.0,700.7 586.9,702.8 590.0,704.0 C593.1,705.2 594.6,707.6 597.4,707.6 C600.2,707.6 603.4,705.1 606.8,704.0 C610.2,702.9 614.5,701.3 617.8,701.2 C621.1,701.1 624.7,702.4 626.8,703.6 C628.9,704.8 629.6,705.9 630.6,708.6 Z" fill="#0a0a0a" stroke="#fff" stroke-width="1.1" stroke-linejoin="round" stroke-linecap="round" />
<g transform="translate(579.6,731.8) rotate(-7.4)"><rect x="-2.4" y="-17.6" width="4.8" height="35.2" fill="#f4f4f4"/><rect x="-0.5" y="-12" width="1" height="24" fill="#333"/></g>
<path d="M600.6,722.4 A8.4,8.4 0 0 1 614.6,719" fill="none" stroke="#f2f2f2" stroke-width="1"/>
<path d="M582,726 L616,722 M582.4,728.4 L616,724 M582.8,730.8 L616,726 M583.2,733.2 L616,728 M583.6,735.6 L616,730" stroke="#9a9a9a" stroke-width="0.45"/>
<polygon points="616.0,720.6 694.8,710.0 694.8,719.8 616.0,731.2" fill="#3a3234" stroke="#111" stroke-width="0.5" stroke-linejoin="round" />
<path d="M621.6,720.4 L621.6,729.8" stroke="#f0f0f0" stroke-width="0.8"/>
<path d="M627.3,719.7 L627.3,729.0" stroke="#f0f0f0" stroke-width="0.8"/>
<path d="M632.9,718.9 L632.9,728.2" stroke="#f0f0f0" stroke-width="0.8"/>
<path d="M638.5,718.2 L638.5,727.3" stroke="#f0f0f0" stroke-width="0.8"/>
<path d="M644.1,717.4 L644.1,726.5" stroke="#f0f0f0" stroke-width="0.8"/>
<path d="M649.8,716.7 L649.8,725.7" stroke="#f0f0f0" stroke-width="0.8"/>
<path d="M655.4,715.9 L655.4,724.9" stroke="#f0f0f0" stroke-width="0.8"/>
<path d="M661.0,715.1 L661.0,724.1" stroke="#f0f0f0" stroke-width="0.8"/>
<path d="M666.7,714.4 L666.7,723.3" stroke="#f0f0f0" stroke-width="0.8"/>
<path d="M672.3,713.6 L672.3,722.5" stroke="#f0f0f0" stroke-width="0.8"/>
<path d="M677.9,712.9 L677.9,721.6" stroke="#f0f0f0" stroke-width="0.8"/>
<path d="M683.5,712.1 L683.5,720.8" stroke="#f0f0f0" stroke-width="0.8"/>
<path d="M689.2,711.4 L689.2,720.0" stroke="#f0f0f0" stroke-width="0.8"/>
<circle cx="632.8" cy="723.9" r="0.8" fill="#ddd"/>
<circle cx="643.8" cy="722.4" r="0.8" fill="#ddd"/>
<circle cx="654.8" cy="720.8" r="0.8" fill="#ddd"/>
<circle cx="665.9" cy="719.3" r="0.8" fill="#ddd"/>
<circle cx="680.1" cy="717.3" r="0.8" fill="#ddd"/>
<polygon points="694.8,708.6 703.0,706.6 716.0,705.4 717.4,712.6 716.2,720.0 703.0,720.6 694.8,720.6" fill="#0a0a0a" />
<path d="M697,711.6 L715.4,708.6 M697,717.6 L716,717" stroke="#bdbdbd" stroke-width="0.7"/>
<circle cx="702" cy="704.6" r="1.3" fill="#222"/>
<circle cx="708.4" cy="703.6" r="1.3" fill="#222"/>
<circle cx="714" cy="703.2" r="1.3" fill="#222"/>
<circle cx="702.6" cy="722.6" r="1.3" fill="#222"/>
<circle cx="709" cy="722.6" r="1.3" fill="#222"/>
<circle cx="714.6" cy="722" r="1.3" fill="#222"/>
<path d="M594.0,727.0 C594.7,724.9 597.0,723.4 599.0,722.6 C601.0,721.8 603.8,721.5 606.0,722.0 C608.2,722.5 610.6,724.0 612.4,725.6 C614.2,727.2 615.8,729.3 616.6,731.4 C617.4,733.5 617.3,736.0 617.0,738.0 C616.7,740.0 615.7,742.9 614.6,743.6 C613.5,744.3 611.6,741.8 610.4,742.0 C609.2,742.2 608.7,744.4 607.6,744.6 C606.5,744.8 604.9,743.0 603.6,743.0 C602.3,743.0 601.2,744.9 600.0,744.6 C598.8,744.3 597.3,742.6 596.4,741.0 C595.5,739.4 595.0,737.3 594.6,735.0 C594.2,732.7 593.3,729.1 594.0,727.0 Z" fill="#fff" stroke="#2a2a2a" stroke-width="0.5" stroke-linejoin="round" stroke-linecap="round" />
<path d="M672.6,718.0 C673.2,716.9 674.6,715.9 676.0,715.6 C677.4,715.3 679.4,715.5 681.0,716.0 C682.6,716.5 684.7,717.4 685.6,718.6 C686.5,719.8 686.7,721.8 686.4,723.0 C686.1,724.2 684.8,725.4 683.6,726.0 C682.4,726.6 680.5,726.7 679.0,726.6 C677.5,726.5 675.7,726.2 674.6,725.4 C673.5,724.6 672.7,723.2 672.4,722.0 C672.1,720.8 672.0,719.1 672.6,718.0 Z" fill="#fff" stroke="#2a2a2a" stroke-width="0.5" stroke-linejoin="round" stroke-linecap="round" />
<path d="M676.4,719 v5.4 M679.6,719 v5.8 M682.8,719.6 v5" stroke="#444" stroke-width="0.45"/>
</g>
</svg>
</body>
</html>
